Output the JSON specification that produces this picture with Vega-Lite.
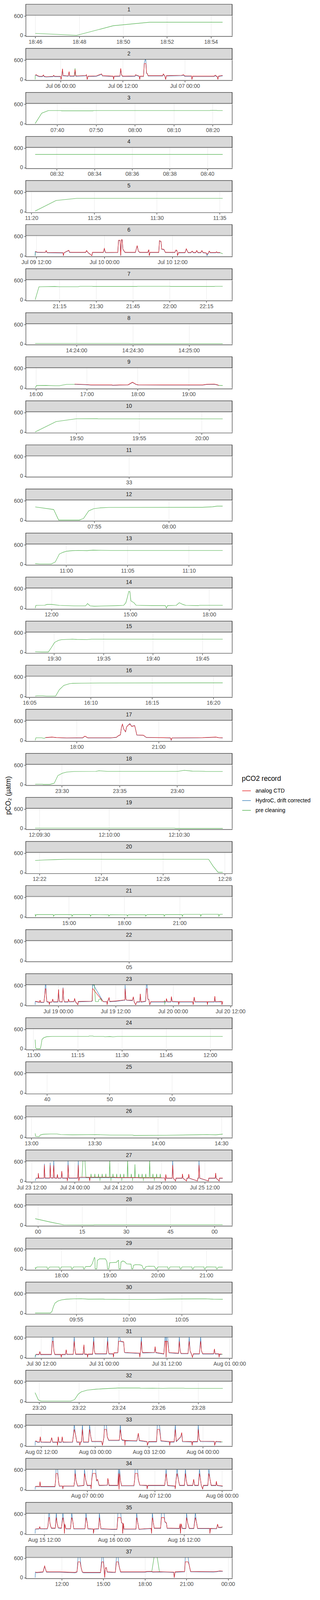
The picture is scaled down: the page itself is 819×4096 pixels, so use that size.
{
"$schema":"https://vega.github.io/schema/vega-lite/v6.json",
"padding":{"left":13,"top":9,"right":5,"bottom":5},
"background":"white",
"title":{"text":"pCO₂ (µatm)","orient":"left","anchor":"middle","fontSize":17.5,"fontWeight":"normal","color":"#000000","offset":4},
"config":{
 "font":"Liberation Sans",
 "view":{"stroke":"#333333","strokeWidth":1.2},
 "axis":{"domain":false,"tickColor":"#333333","tickWidth":1.2,"tickSize":4.5,"labelColor":"#4D4D4D","labelFontSize":14,"labelPadding":3,"gridColor":"#EBEBEB","gridWidth":1.1,"labelOverlap":false,"labelFlush":false},
 "legend":{"titleFontSize":17.5,"titleFontWeight":"normal","titleColor":"#000000","labelFontSize":14,"labelColor":"#000000","symbolType":"stroke","symbolSize":484,"symbolStrokeWidth":1.4,"rowPadding":6,"labelOffset":11,"titlePadding":10}
},
"resolve":{"scale":{"x":"independent","y":"independent","color":"shared"},"axis":{"x":"independent","y":"independent"}},
"spacing":5.8,
"datasets":{
"p1":[{"t":"2019-07-04T18:46:00","v":61,"s":"P"},{"t":"2019-07-04T18:47:00","v":32,"s":"P"},{"t":"2019-07-04T18:47:53","v":0,"s":"P"},{"t":"2019-07-04T18:49:33","v":301,"s":"P"},{"t":"2019-07-04T18:51:13","v":412,"s":"P"},{"t":"2019-07-04T18:54:32","v":412,"s":"P"}],
"p2":[{"t":"2019-07-05T19:06","v":0,"s":"P","g":1},{"t":"2019-07-05T19:07","v":130,"s":"P","g":1},{"t":"2019-07-06T02:42","v":112,"s":"P","g":2},{"t":"2019-07-06T02:48","v":350,"s":"P","g":2},{"t":"2019-07-06T02:54","v":112,"s":"P","g":2},
{"t":"2019-07-05T19:07","v":120,"s":"H"},{"t":"2019-07-05T19:18","v":134,"s":"H"},{"t":"2019-07-05T19:31","v":109,"s":"H"},{"t":"2019-07-05T19:54","v":85,"s":"H"},{"t":"2019-07-05T20:29","v":85,"s":"H"},{"t":"2019-07-05T20:41","v":126,"s":"H"},{"t":"2019-07-05T20:50","v":85,"s":"H"},{"t":"2019-07-05T21:13","v":75,"s":"H"},{"t":"2019-07-05T22:32","v":85,"s":"H"},{"t":"2019-07-05T22:41","v":116,"s":"H"},{"t":"2019-07-05T22:50","v":85,"s":"H"},{"t":"2019-07-06T00:00","v":85,"s":"H"},{"t":"2019-07-06T00:06","v":0,"s":"H"},{"t":"2019-07-06T00:13","v":85,"s":"H"},{"t":"2019-07-06T00:23","v":320,"s":"H"},{"t":"2019-07-06T00:29","v":110,"s":"H"},{"t":"2019-07-06T01:29","v":97,"s":"H"},{"t":"2019-07-06T01:39","v":233,"s":"H"},{"t":"2019-07-06T01:46","v":97,"s":"H"},{"t":"2019-07-06T02:39","v":97,"s":"H"},{"t":"2019-07-06T02:48","v":295,"s":"H"},{"t":"2019-07-06T02:57","v":97,"s":"H"},{"t":"2019-07-06T04:51","v":109,"s":"H"},{"t":"2019-07-06T05:00","v":134,"s":"H"},{"t":"2019-07-06T05:09","v":0,"s":"H"},{"t":"2019-07-06T05:18","v":90,"s":"H"},{"t":"2019-07-06T06:55","v":97,"s":"H"},{"t":"2019-07-06T07:56","v":160,"s":"H"},{"t":"2019-07-06T08:05","v":104,"s":"H"},{"t":"2019-07-06T10:09","v":90,"s":"H"},{"t":"2019-07-06T10:14","v":0,"s":"H"},{"t":"2019-07-06T10:21","v":90,"s":"H"},{"t":"2019-07-06T11:28","v":97,"s":"H"},{"t":"2019-07-06T11:37","v":332,"s":"H"},{"t":"2019-07-06T11:46","v":134,"s":"H"},{"t":"2019-07-06T11:58","v":90,"s":"H"},{"t":"2019-07-06T14:24","v":97,"s":"H"},{"t":"2019-07-06T14:28","v":134,"s":"H"},{"t":"2019-07-06T15:12","v":90,"s":"H"},{"t":"2019-07-06T15:17","v":0,"s":"H"},{"t":"2019-07-06T15:22","v":90,"s":"H"},{"t":"2019-07-06T16:01","v":90,"s":"H"},{"t":"2019-07-06T16:10","v":520,"s":"H"},{"t":"2019-07-06T16:22","v":630,"s":"H"},{"t":"2019-07-06T16:28","v":600,"s":"H"},{"t":"2019-07-06T16:36","v":190,"s":"H"},{"t":"2019-07-06T16:45","v":175,"s":"H"},{"t":"2019-07-06T16:54","v":105,"s":"H"},{"t":"2019-07-06T18:05","v":105,"s":"H"},{"t":"2019-07-06T19:42","v":105,"s":"H"},{"t":"2019-07-06T19:50","v":160,"s":"H"},{"t":"2019-07-06T20:08","v":97,"s":"H"},{"t":"2019-07-06T20:17","v":0,"s":"H"},{"t":"2019-07-06T20:26","v":105,"s":"H"},{"t":"2019-07-06T23:22","v":114,"s":"H"},{"t":"2019-07-06T23:45","v":134,"s":"H"},{"t":"2019-07-06T23:57","v":97,"s":"H"},{"t":"2019-07-07T01:17","v":97,"s":"H"},{"t":"2019-07-07T01:22","v":0,"s":"H"},{"t":"2019-07-07T01:29","v":90,"s":"H"},{"t":"2019-07-07T05:41","v":90,"s":"H"},{"t":"2019-07-07T05:50","v":121,"s":"H"},{"t":"2019-07-07T06:16","v":75,"s":"H"},{"t":"2019-07-07T06:22","v":0,"s":"H"},{"t":"2019-07-07T06:29","v":90,"s":"H"},{"t":"2019-07-07T07:09","v":110,"s":"H"},{"t":"2019-07-07T07:18","v":112,"s":"H"},
{"t":"2019-07-05T19:07","v":136,"s":"A"},{"t":"2019-07-05T19:18","v":149,"s":"A"},{"t":"2019-07-05T19:31","v":124,"s":"A"},{"t":"2019-07-05T19:54","v":99,"s":"A"},{"t":"2019-07-05T20:29","v":99,"s":"A"},{"t":"2019-07-05T20:41","v":141,"s":"A"},{"t":"2019-07-05T20:50","v":99,"s":"A"},{"t":"2019-07-05T21:13","v":87,"s":"A"},{"t":"2019-07-05T22:32","v":99,"s":"A"},{"t":"2019-07-05T22:41","v":131,"s":"A"},{"t":"2019-07-05T22:50","v":99,"s":"A"},{"t":"2019-07-06T00:00","v":99,"s":"A"},{"t":"2019-07-06T00:06","v":0,"s":"A"},{"t":"2019-07-06T00:13","v":99,"s":"A"},{"t":"2019-07-06T00:23","v":335,"s":"A"},{"t":"2019-07-06T00:29","v":124,"s":"A"},{"t":"2019-07-06T01:29","v":112,"s":"A"},{"t":"2019-07-06T01:39","v":248,"s":"A"},{"t":"2019-07-06T01:46","v":112,"s":"A"},{"t":"2019-07-06T02:39","v":112,"s":"A"},{"t":"2019-07-06T02:48","v":310,"s":"A"},{"t":"2019-07-06T02:57","v":112,"s":"A"},{"t":"2019-07-06T04:51","v":124,"s":"A"},{"t":"2019-07-06T05:00","v":149,"s":"A"},{"t":"2019-07-06T05:09","v":0,"s":"A"},{"t":"2019-07-06T05:18","v":104,"s":"A"},{"t":"2019-07-06T06:55","v":112,"s":"A"},{"t":"2019-07-06T07:56","v":174,"s":"A"},{"t":"2019-07-06T08:05","v":119,"s":"A"},{"t":"2019-07-06T10:09","v":104,"s":"A"},{"t":"2019-07-06T10:14","v":0,"s":"A"},{"t":"2019-07-06T10:21","v":104,"s":"A"},{"t":"2019-07-06T11:28","v":112,"s":"A"},{"t":"2019-07-06T11:37","v":347,"s":"A"},{"t":"2019-07-06T11:46","v":149,"s":"A"},{"t":"2019-07-06T11:58","v":104,"s":"A"},{"t":"2019-07-06T14:24","v":112,"s":"A"},{"t":"2019-07-06T14:28","v":149,"s":"A"},{"t":"2019-07-06T15:12","v":104,"s":"A"},{"t":"2019-07-06T15:17","v":0,"s":"A"},{"t":"2019-07-06T15:22","v":104,"s":"A"},{"t":"2019-07-06T16:01","v":104,"s":"A"},{"t":"2019-07-06T16:10","v":496,"s":"A"},{"t":"2019-07-06T16:22","v":496,"s":"A"},{"t":"2019-07-06T16:28","v":496,"s":"A"},{"t":"2019-07-06T16:36","v":198,"s":"A"},{"t":"2019-07-06T16:45","v":186,"s":"A"},{"t":"2019-07-06T16:54","v":119,"s":"A"},{"t":"2019-07-06T18:05","v":119,"s":"A"},{"t":"2019-07-06T19:42","v":119,"s":"A"},{"t":"2019-07-06T19:50","v":174,"s":"A"},{"t":"2019-07-06T20:08","v":112,"s":"A"},{"t":"2019-07-06T20:17","v":0,"s":"A"},{"t":"2019-07-06T20:26","v":119,"s":"A"},{"t":"2019-07-06T23:22","v":129,"s":"A"},{"t":"2019-07-06T23:45","v":149,"s":"A"},{"t":"2019-07-06T23:57","v":112,"s":"A"},{"t":"2019-07-07T01:17","v":112,"s":"A"},{"t":"2019-07-07T01:22","v":0,"s":"A"},{"t":"2019-07-07T01:29","v":104,"s":"A"},{"t":"2019-07-07T05:41","v":104,"s":"A"},{"t":"2019-07-07T05:50","v":136,"s":"A"},{"t":"2019-07-07T06:16","v":87,"s":"A"},{"t":"2019-07-07T06:22","v":0,"s":"A"},{"t":"2019-07-07T06:29","v":104,"s":"A"},{"t":"2019-07-07T07:09","v":124,"s":"A"},{"t":"2019-07-07T07:18","v":124,"s":"A"}],
"p3":[{"t":"2019-07-07T07:34:22","v":0,"s":"P"},{"t":"2019-07-07T07:36:03","v":322,"s":"P"},{"t":"2019-07-07T07:37:45","v":405,"s":"P"},{"t":"2019-07-07T07:40:57","v":405,"s":"P"},{"t":"2019-07-07T07:41:08","v":398,"s":"P"},{"t":"2019-07-07T07:49:13","v":398,"s":"P"},{"t":"2019-07-07T07:49:24","v":405,"s":"P"},{"t":"2019-07-07T08:19:17","v":405,"s":"P"},{"t":"2019-07-07T08:19:28","v":412,"s":"P"},{"t":"2019-07-07T08:20:59","v":412,"s":"P"},{"t":"2019-07-07T08:21:10","v":405,"s":"P"},{"t":"2019-07-07T08:22:34","v":405,"s":"P"}],
"p4":[{"t":"2019-07-07T08:30:51","v":410,"s":"P"},{"t":"2019-07-07T08:40:49","v":410,"s":"P"}],
"p5":[{"t":"2019-07-08T11:20:18","v":18,"s":"P"},{"t":"2019-07-08T11:21:58","v":348,"s":"P"},{"t":"2019-07-08T11:23:37","v":415,"s":"P"},{"t":"2019-07-08T11:35:15","v":415,"s":"P"}],
"p6":[{"t":"2019-07-09T11:49","v":0,"s":"P","g":1},{"t":"2019-07-09T11:54","v":120,"s":"P","g":1},{"t":"2019-07-10T20:20","v":95,"s":"P","g":2},{"t":"2019-07-10T20:51","v":62,"s":"P","g":2},
{"t":"2019-07-09T11:49","v":0,"s":"H"},{"t":"2019-07-09T11:50","v":125,"s":"H"},{"t":"2019-07-09T12:12","v":100,"s":"H"},{"t":"2019-07-09T13:37","v":95,"s":"H"},{"t":"2019-07-09T13:45","v":151,"s":"H"},{"t":"2019-07-09T13:55","v":90,"s":"H"},{"t":"2019-07-09T16:43","v":85,"s":"H"},{"t":"2019-07-09T16:47","v":0,"s":"H"},{"t":"2019-07-09T16:54","v":85,"s":"H"},{"t":"2019-07-09T17:45","v":162,"s":"H"},{"t":"2019-07-09T17:52","v":100,"s":"H"},{"t":"2019-07-09T18:08","v":96,"s":"H"},{"t":"2019-07-09T20:42","v":96,"s":"H"},{"t":"2019-07-09T20:53","v":151,"s":"H"},{"t":"2019-07-09T21:06","v":96,"s":"H"},{"t":"2019-07-09T21:49","v":0,"s":"H"},{"t":"2019-07-09T21:54","v":96,"s":"H"},{"t":"2019-07-09T23:49","v":96,"s":"H"},{"t":"2019-07-10T00:00","v":217,"s":"H"},{"t":"2019-07-10T00:11","v":96,"s":"H"},{"t":"2019-07-10T00:19","v":92,"s":"H"},{"t":"2019-07-10T02:22","v":96,"s":"H"},{"t":"2019-07-10T02:30","v":473,"s":"H"},{"t":"2019-07-10T02:46","v":473,"s":"H"},{"t":"2019-07-10T02:53","v":0,"s":"H"},{"t":"2019-07-10T03:01","v":491,"s":"H"},{"t":"2019-07-10T03:09","v":491,"s":"H"},{"t":"2019-07-10T03:16","v":199,"s":"H"},{"t":"2019-07-10T03:32","v":125,"s":"H"},{"t":"2019-07-10T03:40","v":96,"s":"H"},{"t":"2019-07-10T05:28","v":96,"s":"H"},{"t":"2019-07-10T05:47","v":308,"s":"H"},{"t":"2019-07-10T05:59","v":140,"s":"H"},{"t":"2019-07-10T06:14","v":96,"s":"H"},{"t":"2019-07-10T07:39","v":96,"s":"H"},{"t":"2019-07-10T07:50","v":180,"s":"H"},{"t":"2019-07-10T07:55","v":0,"s":"H"},{"t":"2019-07-10T08:03","v":96,"s":"H"},{"t":"2019-07-10T09:35","v":96,"s":"H"},{"t":"2019-07-10T09:43","v":462,"s":"H"},{"t":"2019-07-10T09:59","v":436,"s":"H"},{"t":"2019-07-10T10:06","v":199,"s":"H"},{"t":"2019-07-10T10:30","v":188,"s":"H"},{"t":"2019-07-10T10:45","v":96,"s":"H"},{"t":"2019-07-10T12:25","v":96,"s":"H"},{"t":"2019-07-10T12:38","v":173,"s":"H"},{"t":"2019-07-10T12:49","v":140,"s":"H"},{"t":"2019-07-10T12:53","v":0,"s":"H"},{"t":"2019-07-10T13:04","v":90,"s":"H"},{"t":"2019-07-10T14:13","v":90,"s":"H"},{"t":"2019-07-10T14:26","v":209,"s":"H"},{"t":"2019-07-10T14:45","v":90,"s":"H"},{"t":"2019-07-10T15:15","v":90,"s":"H"},{"t":"2019-07-10T15:28","v":136,"s":"H"},{"t":"2019-07-10T15:40","v":90,"s":"H"},{"t":"2019-07-10T16:06","v":90,"s":"H"},{"t":"2019-07-10T16:17","v":154,"s":"H"},{"t":"2019-07-10T16:28","v":90,"s":"H"},{"t":"2019-07-10T17:00","v":90,"s":"H"},{"t":"2019-07-10T17:11","v":151,"s":"H"},{"t":"2019-07-10T17:23","v":90,"s":"H"},{"t":"2019-07-10T17:57","v":80,"s":"H"},{"t":"2019-07-10T18:05","v":0,"s":"H"},{"t":"2019-07-10T18:21","v":85,"s":"H"},{"t":"2019-07-10T18:28","v":136,"s":"H"},{"t":"2019-07-10T18:39","v":90,"s":"H"},{"t":"2019-07-10T19:38","v":90,"s":"H"},{"t":"2019-07-10T19:46","v":114,"s":"H"},{"t":"2019-07-10T19:53","v":90,"s":"H"},{"t":"2019-07-10T20:24","v":90,"s":"H"},
{"t":"2019-07-09T11:50","v":135,"s":"A"},{"t":"2019-07-09T12:12","v":110,"s":"A"},{"t":"2019-07-09T13:37","v":105,"s":"A"},{"t":"2019-07-09T13:45","v":161,"s":"A"},{"t":"2019-07-09T13:55","v":100,"s":"A"},{"t":"2019-07-09T16:43","v":95,"s":"A"},{"t":"2019-07-09T16:47","v":0,"s":"A"},{"t":"2019-07-09T16:54","v":95,"s":"A"},{"t":"2019-07-09T17:45","v":172,"s":"A"},{"t":"2019-07-09T17:52","v":110,"s":"A"},{"t":"2019-07-09T18:08","v":106,"s":"A"},{"t":"2019-07-09T20:42","v":106,"s":"A"},{"t":"2019-07-09T20:53","v":161,"s":"A"},{"t":"2019-07-09T21:06","v":106,"s":"A"},{"t":"2019-07-09T21:49","v":0,"s":"A"},{"t":"2019-07-09T21:54","v":106,"s":"A"},{"t":"2019-07-09T23:49","v":106,"s":"A"},{"t":"2019-07-10T00:00","v":227,"s":"A"},{"t":"2019-07-10T00:11","v":106,"s":"A"},{"t":"2019-07-10T00:19","v":102,"s":"A"},{"t":"2019-07-10T02:22","v":106,"s":"A"},{"t":"2019-07-10T02:30","v":483,"s":"A"},{"t":"2019-07-10T02:46","v":483,"s":"A"},{"t":"2019-07-10T02:53","v":0,"s":"A"},{"t":"2019-07-10T03:01","v":501,"s":"A"},{"t":"2019-07-10T03:09","v":501,"s":"A"},{"t":"2019-07-10T03:16","v":209,"s":"A"},{"t":"2019-07-10T03:32","v":135,"s":"A"},{"t":"2019-07-10T03:40","v":106,"s":"A"},{"t":"2019-07-10T05:28","v":106,"s":"A"},{"t":"2019-07-10T05:47","v":318,"s":"A"},{"t":"2019-07-10T05:59","v":150,"s":"A"},{"t":"2019-07-10T06:14","v":106,"s":"A"},{"t":"2019-07-10T07:39","v":106,"s":"A"},{"t":"2019-07-10T07:50","v":190,"s":"A"},{"t":"2019-07-10T07:55","v":0,"s":"A"},{"t":"2019-07-10T08:03","v":106,"s":"A"},{"t":"2019-07-10T09:35","v":106,"s":"A"},{"t":"2019-07-10T09:43","v":472,"s":"A"},{"t":"2019-07-10T09:59","v":446,"s":"A"},{"t":"2019-07-10T10:06","v":209,"s":"A"},{"t":"2019-07-10T10:30","v":198,"s":"A"},{"t":"2019-07-10T10:45","v":106,"s":"A"},{"t":"2019-07-10T12:25","v":106,"s":"A"},{"t":"2019-07-10T12:38","v":183,"s":"A"},{"t":"2019-07-10T12:49","v":150,"s":"A"},{"t":"2019-07-10T12:53","v":0,"s":"A"},{"t":"2019-07-10T13:04","v":100,"s":"A"},{"t":"2019-07-10T14:13","v":100,"s":"A"},{"t":"2019-07-10T14:26","v":219,"s":"A"},{"t":"2019-07-10T14:45","v":100,"s":"A"},{"t":"2019-07-10T15:15","v":100,"s":"A"},{"t":"2019-07-10T15:28","v":146,"s":"A"},{"t":"2019-07-10T15:40","v":100,"s":"A"},{"t":"2019-07-10T16:06","v":100,"s":"A"},{"t":"2019-07-10T16:17","v":164,"s":"A"},{"t":"2019-07-10T16:28","v":100,"s":"A"},{"t":"2019-07-10T17:00","v":100,"s":"A"},{"t":"2019-07-10T17:11","v":161,"s":"A"},{"t":"2019-07-10T17:23","v":100,"s":"A"},{"t":"2019-07-10T17:57","v":90,"s":"A"},{"t":"2019-07-10T18:05","v":40,"s":"A"},{"t":"2019-07-10T18:21","v":95,"s":"A"},{"t":"2019-07-10T18:28","v":146,"s":"A"},{"t":"2019-07-10T18:39","v":100,"s":"A"},{"t":"2019-07-10T19:38","v":100,"s":"A"},{"t":"2019-07-10T19:46","v":124,"s":"A"},{"t":"2019-07-10T19:53","v":100,"s":"A"},{"t":"2019-07-10T20:24","v":100,"s":"A"}],
"p7":[{"t":"2019-07-10T21:05:05","v":0,"s":"P"},{"t":"2019-07-10T21:06:38","v":405,"s":"P"},{"t":"2019-07-10T21:07:32","v":408,"s":"P"},{"t":"2019-07-10T21:13:09","v":415,"s":"P"},{"t":"2019-07-10T21:14:57","v":408,"s":"P"},{"t":"2019-07-10T21:22:43","v":408,"s":"P"},{"t":"2019-07-10T21:23:19","v":420,"s":"P"},{"t":"2019-07-10T21:28:24","v":420,"s":"P"},{"t":"2019-07-10T21:28:42","v":415,"s":"P"},{"t":"2019-07-10T21:46:37","v":415,"s":"P"},{"t":"2019-07-10T21:46:55","v":420,"s":"P"},{"t":"2019-07-10T22:00:04","v":420,"s":"P"},{"t":"2019-07-10T22:00:22","v":415,"s":"P"},{"t":"2019-07-10T22:18:18","v":415,"s":"P"},{"t":"2019-07-10T22:18:36","v":420,"s":"P"},{"t":"2019-07-10T22:21:42","v":420,"s":"P"}],
"p8":[{"t":"2019-07-11T14:23:38","v":11,"s":"P"},{"t":"2019-07-11T14:24:28","v":11,"s":"P"},{"t":"2019-07-11T14:24:29","v":4,"s":"P"},{"t":"2019-07-11T14:25:18","v":4,"s":"P"}],
"p9":[{"t":"2019-07-11T15:59:08","v":0,"s":"P","g":1},{"t":"2019-07-11T16:00:51","v":74,"s":"P","g":1},{"t":"2019-07-11T16:12:04","v":77,"s":"P","g":1},{"t":"2019-07-11T16:22:25","v":66,"s":"P","g":1},{"t":"2019-07-11T16:27:35","v":66,"s":"P","g":1},{"t":"2019-07-11T16:31:02","v":85,"s":"P","g":1},{"t":"2019-07-11T16:36:12","v":110,"s":"P","g":1},{"t":"2019-07-11T16:46:33","v":110,"s":"P","g":1},{"t":"2019-07-11T19:33:48","v":96,"s":"P","g":2},{"t":"2019-07-11T19:35:31","v":77,"s":"P","g":2},{"t":"2019-07-11T19:40:10","v":74,"s":"P","g":2},
{"t":"2019-07-11T16:45:41","v":110,"s":"H"},{"t":"2019-07-11T17:00:20","v":95,"s":"H"},{"t":"2019-07-11T17:04:39","v":84,"s":"H"},{"t":"2019-07-11T17:29:39","v":84,"s":"H"},{"t":"2019-07-11T17:30:31","v":77,"s":"H"},{"t":"2019-07-11T17:38:16","v":84,"s":"H"},{"t":"2019-07-11T17:48:37","v":88,"s":"H"},{"t":"2019-07-11T17:53:48","v":170,"s":"H"},{"t":"2019-07-11T17:58:06","v":102,"s":"H"},{"t":"2019-07-11T18:00:41","v":88,"s":"H"},{"t":"2019-07-11T18:29:59","v":84,"s":"H"},{"t":"2019-07-11T19:16:33","v":84,"s":"H"},{"t":"2019-07-11T19:21:43","v":106,"s":"H"},{"t":"2019-07-11T19:30:21","v":110,"s":"H"},{"t":"2019-07-11T19:33:48","v":88,"s":"H"},{"t":"2019-07-11T19:35:31","v":72,"s":"H"},
{"t":"2019-07-11T16:45:41","v":118,"s":"A"},{"t":"2019-07-11T17:00:20","v":103,"s":"A"},{"t":"2019-07-11T17:04:39","v":92,"s":"A"},{"t":"2019-07-11T17:29:39","v":92,"s":"A"},{"t":"2019-07-11T17:30:31","v":85,"s":"A"},{"t":"2019-07-11T17:38:16","v":92,"s":"A"},{"t":"2019-07-11T17:48:37","v":96,"s":"A"},{"t":"2019-07-11T17:53:48","v":177,"s":"A"},{"t":"2019-07-11T17:58:06","v":110,"s":"A"},{"t":"2019-07-11T18:00:41","v":96,"s":"A"},{"t":"2019-07-11T18:29:59","v":92,"s":"A"},{"t":"2019-07-11T19:16:33","v":92,"s":"A"},{"t":"2019-07-11T19:21:43","v":114,"s":"A"},{"t":"2019-07-11T19:30:21","v":118,"s":"A"},{"t":"2019-07-11T19:33:48","v":96,"s":"A"},{"t":"2019-07-11T19:35:31","v":77,"s":"A"}],
"p10":[{"t":"2019-07-12T19:46:43","v":0,"s":"P"},{"t":"2019-07-12T19:48:23","v":324,"s":"P"},{"t":"2019-07-12T19:50:00","v":412,"s":"P"},{"t":"2019-07-12T19:51:41","v":416,"s":"P"},{"t":"2019-07-12T19:51:44","v":409,"s":"P"},{"t":"2019-07-12T20:01:40","v":409,"s":"P"}],
"p11":[{"t":"2019-07-13T10:00:33","v":null,"s":"P"}],
"p12":[{"t":"2019-07-14T07:51:03","v":411,"s":"P"},{"t":"2019-07-14T07:52:17","v":330,"s":"P"},{"t":"2019-07-14T07:52:37","v":0,"s":"P"},{"t":"2019-07-14T07:54:00","v":0,"s":"P"},{"t":"2019-07-14T07:54:17","v":48,"s":"P"},{"t":"2019-07-14T07:54:38","v":289,"s":"P"},{"t":"2019-07-14T07:54:58","v":356,"s":"P"},{"t":"2019-07-14T07:55:24","v":381,"s":"P"},{"t":"2019-07-14T07:55:59","v":396,"s":"P"},{"t":"2019-07-14T08:02:15","v":400,"s":"P"},{"t":"2019-07-14T08:02:56","v":415,"s":"P"},{"t":"2019-07-14T08:03:14","v":437,"s":"P"},{"t":"2019-07-14T08:03:36","v":437,"s":"P"}],
"p13":[{"t":"2019-07-14T10:57:29","v":15,"s":"P"},{"t":"2019-07-14T10:57:50","v":4,"s":"P"},{"t":"2019-07-14T10:58:48","v":4,"s":"P"},{"t":"2019-07-14T10:59:07","v":67,"s":"P"},{"t":"2019-07-14T10:59:27","v":315,"s":"P"},{"t":"2019-07-14T10:59:45","v":370,"s":"P"},{"t":"2019-07-14T11:00:03","v":404,"s":"P"},{"t":"2019-07-14T11:00:31","v":422,"s":"P"},{"t":"2019-07-14T11:01:00","v":426,"s":"P"},{"t":"2019-07-14T11:01:43","v":422,"s":"P"},{"t":"2019-07-14T11:02:11","v":437,"s":"P"},{"t":"2019-07-14T11:02:47","v":433,"s":"P"},{"t":"2019-07-14T11:03:37","v":426,"s":"P"},{"t":"2019-07-14T11:12:45","v":426,"s":"P"}],
"p14":[{"t":"2019-07-15T11:22:58","v":0,"s":"P"},{"t":"2019-07-15T11:24:38","v":88,"s":"P"},{"t":"2019-07-15T11:44:40","v":91,"s":"P"},{"t":"2019-07-15T11:49:40","v":117,"s":"P"},{"t":"2019-07-15T12:01:22","v":117,"s":"P"},{"t":"2019-07-15T12:18:04","v":88,"s":"P"},{"t":"2019-07-15T12:51:28","v":73,"s":"P"},{"t":"2019-07-15T13:18:10","v":73,"s":"P"},{"t":"2019-07-15T13:22:28","v":146,"s":"P"},{"t":"2019-07-15T13:28:10","v":73,"s":"P"},{"t":"2019-07-15T13:38:10","v":62,"s":"P"},{"t":"2019-07-15T14:31:40","v":80,"s":"P"},{"t":"2019-07-15T14:45:00","v":88,"s":"P"},{"t":"2019-07-15T14:50:00","v":172,"s":"P"},{"t":"2019-07-15T14:53:22","v":337,"s":"P"},{"t":"2019-07-15T14:56:40","v":527,"s":"P"},{"t":"2019-07-15T14:58:58","v":520,"s":"P"},{"t":"2019-07-15T15:01:40","v":227,"s":"P"},{"t":"2019-07-15T15:08:22","v":172,"s":"P"},{"t":"2019-07-15T15:13:22","v":91,"s":"P"},{"t":"2019-07-15T15:50:04","v":80,"s":"P"},{"t":"2019-07-15T16:20:10","v":80,"s":"P"},{"t":"2019-07-15T16:22:28","v":0,"s":"P"},{"t":"2019-07-15T16:25:10","v":80,"s":"P"},{"t":"2019-07-15T16:45:10","v":88,"s":"P"},{"t":"2019-07-15T16:51:52","v":172,"s":"P"},{"t":"2019-07-15T17:00:10","v":117,"s":"P"},{"t":"2019-07-15T17:06:52","v":88,"s":"P"},{"t":"2019-07-15T17:35:16","v":80,"s":"P"},{"t":"2019-07-15T17:38:34","v":91,"s":"P"},{"t":"2019-07-15T18:31:04","v":91,"s":"P"}],
"p15":[{"t":"2019-07-15T19:28:05","v":15,"s":"P"},{"t":"2019-07-15T19:28:45","v":7,"s":"P"},{"t":"2019-07-15T19:29:25","v":7,"s":"P"},{"t":"2019-07-15T19:29:43","v":143,"s":"P"},{"t":"2019-07-15T19:30:03","v":307,"s":"P"},{"t":"2019-07-15T19:30:27","v":373,"s":"P"},{"t":"2019-07-15T19:30:45","v":395,"s":"P"},{"t":"2019-07-15T19:31:51","v":410,"s":"P"},{"t":"2019-07-15T19:32:18","v":402,"s":"P"},{"t":"2019-07-15T19:33:20","v":398,"s":"P"},{"t":"2019-07-15T19:33:47","v":410,"s":"P"},{"t":"2019-07-15T19:47:04","v":410,"s":"P"}],
"p16":[{"t":"2019-07-16T16:05:28","v":7,"s":"P"},{"t":"2019-07-16T16:05:39","v":15,"s":"P"},{"t":"2019-07-16T16:06:04","v":15,"s":"P"},{"t":"2019-07-16T16:06:22","v":7,"s":"P"},{"t":"2019-07-16T16:07:08","v":7,"s":"P"},{"t":"2019-07-16T16:07:26","v":205,"s":"P"},{"t":"2019-07-16T16:07:48","v":340,"s":"P"},{"t":"2019-07-16T16:08:16","v":395,"s":"P"},{"t":"2019-07-16T16:08:31","v":406,"s":"P"},{"t":"2019-07-16T16:09:14","v":410,"s":"P"},{"t":"2019-07-16T16:11:08","v":417,"s":"P"},{"t":"2019-07-16T16:20:46","v":421,"s":"P"}],
"p17":[{"t":"2019-07-16T16:28:34","v":0,"s":"P"},{"t":"2019-07-16T16:30:11","v":81,"s":"P"},{"t":"2019-07-16T16:43:03","v":81,"s":"P"},{"t":"2019-07-16T16:47:53","v":63,"s":"P"},{"t":"2019-07-16T16:51:06","v":81,"s":"P"},
{"t":"2019-07-16T16:51:06","v":83,"s":"H"},{"t":"2019-07-16T17:05:35","v":98,"s":"H"},{"t":"2019-07-16T17:15:15","v":83,"s":"H"},{"t":"2019-07-16T17:37:47","v":72,"s":"H"},{"t":"2019-07-16T18:00:00","v":76,"s":"H"},{"t":"2019-07-16T18:13:10","v":76,"s":"H"},{"t":"2019-07-16T18:18:04","v":128,"s":"H"},{"t":"2019-07-16T18:24:28","v":76,"s":"H"},{"t":"2019-07-16T19:14:22","v":76,"s":"H"},{"t":"2019-07-16T19:27:16","v":91,"s":"H"},{"t":"2019-07-16T19:32:04","v":146,"s":"H"},{"t":"2019-07-16T19:36:16","v":172,"s":"H"},{"t":"2019-07-16T19:38:34","v":420,"s":"H"},{"t":"2019-07-16T19:40:46","v":505,"s":"H"},{"t":"2019-07-16T19:43:22","v":356,"s":"H"},{"t":"2019-07-16T19:47:34","v":264,"s":"H"},{"t":"2019-07-16T19:49:46","v":420,"s":"H"},{"t":"2019-07-16T19:52:58","v":476,"s":"H"},{"t":"2019-07-16T19:57:10","v":525,"s":"H"},{"t":"2019-07-16T20:01:04","v":440,"s":"H"},{"t":"2019-07-16T20:07:28","v":465,"s":"H"},{"t":"2019-07-16T20:09:04","v":374,"s":"H"},{"t":"2019-07-16T20:12:22","v":164,"s":"H"},{"t":"2019-07-16T20:26:46","v":157,"s":"H"},{"t":"2019-07-16T20:33:16","v":87,"s":"H"},{"t":"2019-07-16T21:10:16","v":80,"s":"H"},{"t":"2019-07-16T21:26:22","v":76,"s":"H"},{"t":"2019-07-16T21:27:58","v":0,"s":"H"},{"t":"2019-07-16T21:29:34","v":72,"s":"H"},{"t":"2019-07-16T22:37:10","v":80,"s":"H"},{"t":"2019-07-16T23:06:10","v":98,"s":"H"},{"t":"2019-07-16T23:12:40","v":80,"s":"H"},{"t":"2019-07-16T23:21:22","v":76,"s":"H"},
{"t":"2019-07-16T16:51:06","v":88,"s":"A"},{"t":"2019-07-16T17:05:35","v":103,"s":"A"},{"t":"2019-07-16T17:15:15","v":88,"s":"A"},{"t":"2019-07-16T17:37:47","v":77,"s":"A"},{"t":"2019-07-16T18:00:00","v":81,"s":"A"},{"t":"2019-07-16T18:13:10","v":81,"s":"A"},{"t":"2019-07-16T18:18:04","v":133,"s":"A"},{"t":"2019-07-16T18:24:28","v":81,"s":"A"},{"t":"2019-07-16T19:14:22","v":81,"s":"A"},{"t":"2019-07-16T19:27:16","v":96,"s":"A"},{"t":"2019-07-16T19:32:04","v":151,"s":"A"},{"t":"2019-07-16T19:36:16","v":177,"s":"A"},{"t":"2019-07-16T19:38:34","v":416,"s":"A"},{"t":"2019-07-16T19:40:46","v":508,"s":"A"},{"t":"2019-07-16T19:43:22","v":361,"s":"A"},{"t":"2019-07-16T19:47:34","v":269,"s":"A"},{"t":"2019-07-16T19:49:46","v":416,"s":"A"},{"t":"2019-07-16T19:52:58","v":471,"s":"A"},{"t":"2019-07-16T19:57:10","v":515,"s":"A"},{"t":"2019-07-16T20:01:04","v":434,"s":"A"},{"t":"2019-07-16T20:07:28","v":460,"s":"A"},{"t":"2019-07-16T20:09:04","v":379,"s":"A"},{"t":"2019-07-16T20:12:22","v":169,"s":"A"},{"t":"2019-07-16T20:26:46","v":162,"s":"A"},{"t":"2019-07-16T20:33:16","v":92,"s":"A"},{"t":"2019-07-16T21:10:16","v":85,"s":"A"},{"t":"2019-07-16T21:26:22","v":81,"s":"A"},{"t":"2019-07-16T21:27:58","v":11,"s":"A"},{"t":"2019-07-16T21:29:34","v":77,"s":"A"},{"t":"2019-07-16T22:37:10","v":85,"s":"A"},{"t":"2019-07-16T23:06:10","v":103,"s":"A"},{"t":"2019-07-16T23:12:40","v":85,"s":"A"},{"t":"2019-07-16T23:21:22","v":81,"s":"A"}],
"p18":[{"t":"2019-07-16T23:27:41","v":7,"s":"P"},{"t":"2019-07-16T23:28:19","v":7,"s":"P"},{"t":"2019-07-16T23:28:23","v":0,"s":"P"},{"t":"2019-07-16T23:28:57","v":0,"s":"P"},{"t":"2019-07-16T23:29:20","v":37,"s":"P"},{"t":"2019-07-16T23:29:39","v":276,"s":"P"},{"t":"2019-07-16T23:30:02","v":350,"s":"P"},{"t":"2019-07-16T23:30:25","v":386,"s":"P"},{"t":"2019-07-16T23:31:03","v":405,"s":"P"},{"t":"2019-07-16T23:32:57","v":409,"s":"P"},{"t":"2019-07-16T23:33:12","v":427,"s":"P"},{"t":"2019-07-16T23:33:58","v":409,"s":"P"},{"t":"2019-07-16T23:40:03","v":409,"s":"P"},{"t":"2019-07-16T23:40:37","v":442,"s":"P"},{"t":"2019-07-16T23:41:19","v":416,"s":"P"},{"t":"2019-07-16T23:42:20","v":412,"s":"P"},{"t":"2019-07-16T23:42:28","v":405,"s":"P"},{"t":"2019-07-16T23:43:57","v":405,"s":"P"}],
"p19":[{"t":"2019-07-17T12:09:28.200","v":11,"s":"P"},{"t":"2019-07-17T12:10:27.900","v":11,"s":"P"},{"t":"2019-07-17T12:10:28.500","v":4,"s":"P"},{"t":"2019-07-17T12:10:48.800","v":4,"s":"P"}],
"p20":[{"t":"2019-07-17T12:21:51.800","v":379,"s":"P"},{"t":"2019-07-17T12:22:10.300","v":394,"s":"P"},{"t":"2019-07-17T12:22:30.200","v":405,"s":"P"},{"t":"2019-07-17T12:22:52.900","v":416,"s":"P"},{"t":"2019-07-17T12:27:28.800","v":416,"s":"P"},{"t":"2019-07-17T12:27:37.300","v":206,"s":"P"},{"t":"2019-07-17T12:27:47.300","v":7,"s":"P"},{"t":"2019-07-17T12:27:56.300","v":7,"s":"P"}],
"p21":[{"t":"2019-07-17T13:10","v":80,"s":"P"},{"t":"2019-07-17T13:11","v":11,"s":"P"},{"t":"2019-07-17T13:13","v":55,"s":"P"},{"t":"2019-07-17T13:15","v":63,"s":"P"},{"t":"2019-07-17T14:09","v":63,"s":"P"},{"t":"2019-07-17T14:10","v":11,"s":"P"},{"t":"2019-07-17T14:12","v":50,"s":"P"},{"t":"2019-07-17T14:14","v":63,"s":"P"},{"t":"2019-07-17T15:09","v":63,"s":"P"},{"t":"2019-07-17T15:10","v":11,"s":"P"},{"t":"2019-07-17T15:12","v":50,"s":"P"},{"t":"2019-07-17T15:14","v":63,"s":"P"},{"t":"2019-07-17T16:09","v":63,"s":"P"},{"t":"2019-07-17T16:10","v":11,"s":"P"},{"t":"2019-07-17T16:12","v":50,"s":"P"},{"t":"2019-07-17T16:14","v":63,"s":"P"},{"t":"2019-07-17T17:09","v":60,"s":"P"},{"t":"2019-07-17T17:10","v":11,"s":"P"},{"t":"2019-07-17T17:12","v":50,"s":"P"},{"t":"2019-07-17T17:14","v":60,"s":"P"},{"t":"2019-07-17T18:09","v":58,"s":"P"},{"t":"2019-07-17T18:10","v":11,"s":"P"},{"t":"2019-07-17T18:12","v":50,"s":"P"},{"t":"2019-07-17T18:14","v":60,"s":"P"},{"t":"2019-07-17T19:09","v":62,"s":"P"},{"t":"2019-07-17T19:10","v":11,"s":"P"},{"t":"2019-07-17T19:12","v":50,"s":"P"},{"t":"2019-07-17T19:14","v":63,"s":"P"},{"t":"2019-07-17T20:09","v":63,"s":"P"},{"t":"2019-07-17T20:10","v":11,"s":"P"},{"t":"2019-07-17T20:12","v":50,"s":"P"},{"t":"2019-07-17T20:14","v":63,"s":"P"},{"t":"2019-07-17T21:08","v":63,"s":"P"},{"t":"2019-07-17T21:09","v":11,"s":"P"},{"t":"2019-07-17T21:11","v":55,"s":"P"},{"t":"2019-07-17T21:13","v":70,"s":"P"},{"t":"2019-07-17T22:08","v":70,"s":"P"},{"t":"2019-07-17T22:09","v":11,"s":"P"},{"t":"2019-07-17T22:11","v":60,"s":"P"},{"t":"2019-07-17T22:13","v":74,"s":"P"},{"t":"2019-07-17T23:07","v":74,"s":"P"},{"t":"2019-07-17T23:08","v":11,"s":"P"},{"t":"2019-07-17T23:10","v":60,"s":"P"},{"t":"2019-07-17T23:12","v":74,"s":"P"},{"t":"2019-07-17T23:20:28","v":74,"s":"P"}],
"p22":[{"t":"2019-07-18T09:00:05","v":null,"s":"P"}],
"p23":[{"t":"2019-07-19T06:58","v":100,"s":"P","g":1},{"t":"2019-07-19T07:08","v":130,"s":"P","g":1},{"t":"2019-07-19T07:11","v":630,"s":"P","g":1},{"t":"2019-07-19T07:35","v":620,"s":"P","g":1},{"t":"2019-07-19T07:48","v":100,"s":"P","g":1},{"t":"2019-07-19T08:25","v":100,"s":"P","g":1},{"t":"2019-07-19T08:30","v":160,"s":"P","g":1},{"t":"2019-07-19T08:49","v":185,"s":"P","g":1},{"t":"2019-07-19T08:58","v":160,"s":"P","g":1},{"t":"2019-07-19T09:07","v":100,"s":"P","g":1},{"t":"2019-07-19T22:07","v":100,"s":"P","g":2},{"t":"2019-07-19T22:16","v":130,"s":"P","g":2},{"t":"2019-07-19T22:17","v":0,"s":"P","g":2},{"t":"2019-07-19T22:20","v":100,"s":"P","g":2},
{"t":"2019-07-18T19:12","v":0,"s":"H"},{"t":"2019-07-18T19:13","v":95,"s":"H"},{"t":"2019-07-18T19:21","v":95,"s":"H"},{"t":"2019-07-18T20:07","v":70,"s":"H"},{"t":"2019-07-18T20:13","v":135,"s":"H"},{"t":"2019-07-18T20:20","v":70,"s":"H"},{"t":"2019-07-18T21:02","v":73,"s":"H"},{"t":"2019-07-18T21:11","v":290,"s":"H"},{"t":"2019-07-18T21:20","v":650,"s":"H"},{"t":"2019-07-18T21:26","v":650,"s":"H"},{"t":"2019-07-18T21:33","v":250,"s":"H"},{"t":"2019-07-18T21:39","v":88,"s":"H"},{"t":"2019-07-18T22:06","v":73,"s":"H"},{"t":"2019-07-18T22:10","v":0,"s":"H"},{"t":"2019-07-18T22:15","v":73,"s":"H"},{"t":"2019-07-18T22:43","v":77,"s":"H"},{"t":"2019-07-18T22:52","v":170,"s":"H"},{"t":"2019-07-18T23:01","v":81,"s":"H"},{"t":"2019-07-18T23:56","v":81,"s":"H"},{"t":"2019-07-19T00:06","v":470,"s":"H"},{"t":"2019-07-19T00:11","v":190,"s":"H"},{"t":"2019-07-19T00:18","v":88,"s":"H"},{"t":"2019-07-19T00:51","v":81,"s":"H"},{"t":"2019-07-19T01:02","v":540,"s":"H"},{"t":"2019-07-19T01:10","v":160,"s":"H"},{"t":"2019-07-19T01:19","v":81,"s":"H"},{"t":"2019-07-19T02:05","v":81,"s":"H"},{"t":"2019-07-19T02:10","v":170,"s":"H"},{"t":"2019-07-19T02:20","v":88,"s":"H"},{"t":"2019-07-19T03:18","v":92,"s":"H"},{"t":"2019-07-19T03:27","v":180,"s":"H"},{"t":"2019-07-19T03:37","v":92,"s":"H"},{"t":"2019-07-19T04:08","v":0,"s":"H"},{"t":"2019-07-19T04:13","v":92,"s":"H"},{"t":"2019-07-19T06:58","v":99,"s":"H"},{"t":"2019-07-19T07:08","v":118,"s":"H"},{"t":"2019-07-19T07:11","v":650,"s":"H"},{"t":"2019-07-19T07:17","v":650,"s":"H"},{"t":"2019-07-19T09:25","v":95,"s":"H"},{"t":"2019-07-19T10:11","v":88,"s":"H"},{"t":"2019-07-19T10:15","v":0,"s":"H"},{"t":"2019-07-19T10:20","v":88,"s":"H"},{"t":"2019-07-19T10:39","v":210,"s":"H"},{"t":"2019-07-19T10:48","v":92,"s":"H"},{"t":"2019-07-19T12:10","v":107,"s":"H"},{"t":"2019-07-19T13:42","v":136,"s":"H"},{"t":"2019-07-19T13:57","v":136,"s":"H"},{"t":"2019-07-19T14:00","v":620,"s":"H"},{"t":"2019-07-19T14:10","v":175,"s":"H"},{"t":"2019-07-19T14:19","v":136,"s":"H"},{"t":"2019-07-19T15:32","v":129,"s":"H"},{"t":"2019-07-19T15:43","v":240,"s":"H"},{"t":"2019-07-19T15:54","v":81,"s":"H"},{"t":"2019-07-19T16:13","v":0,"s":"H"},{"t":"2019-07-19T16:27","v":81,"s":"H"},{"t":"2019-07-19T17:04","v":81,"s":"H"},{"t":"2019-07-19T17:10","v":330,"s":"H"},{"t":"2019-07-19T17:19","v":81,"s":"H"},{"t":"2019-07-19T18:17","v":99,"s":"H"},{"t":"2019-07-19T18:27","v":650,"s":"H"},{"t":"2019-07-19T18:36","v":650,"s":"H"},{"t":"2019-07-19T18:45","v":175,"s":"H"},{"t":"2019-07-19T18:58","v":155,"s":"H"},{"t":"2019-07-19T19:09","v":0,"s":"H"},{"t":"2019-07-19T19:22","v":81,"s":"H"},{"t":"2019-07-19T22:34","v":81,"s":"H"},{"t":"2019-07-19T22:38","v":180,"s":"H"},{"t":"2019-07-19T22:49","v":81,"s":"H"},{"t":"2019-07-19T23:35","v":81,"s":"H"},{"t":"2019-07-19T23:40","v":245,"s":"H"},{"t":"2019-07-19T23:51","v":88,"s":"H"},{"t":"2019-07-20T01:10","v":81,"s":"H"},{"t":"2019-07-20T01:12","v":0,"s":"H"},{"t":"2019-07-20T01:19","v":81,"s":"H"},{"t":"2019-07-20T04:08","v":81,"s":"H"},{"t":"2019-07-20T04:14","v":0,"s":"H"},{"t":"2019-07-20T04:26","v":230,"s":"H"},{"t":"2019-07-20T04:37","v":81,"s":"H"},{"t":"2019-07-20T07:08","v":81,"s":"H"},{"t":"2019-07-20T07:12","v":0,"s":"H"},{"t":"2019-07-20T07:17","v":81,"s":"H"},{"t":"2019-07-20T08:39","v":81,"s":"H"},{"t":"2019-07-20T08:45","v":255,"s":"H"},{"t":"2019-07-20T08:52","v":81,"s":"H"},{"t":"2019-07-20T10:11","v":88,"s":"H"},{"t":"2019-07-20T10:15","v":0,"s":"H"},{"t":"2019-07-20T10:24","v":95,"s":"H"},
{"t":"2019-07-18T19:13","v":107,"s":"A"},{"t":"2019-07-18T19:21","v":107,"s":"A"},{"t":"2019-07-18T20:07","v":81,"s":"A"},{"t":"2019-07-18T20:13","v":148,"s":"A"},{"t":"2019-07-18T20:20","v":81,"s":"A"},{"t":"2019-07-18T21:02","v":85,"s":"A"},{"t":"2019-07-18T21:11","v":278,"s":"A"},{"t":"2019-07-18T21:20","v":500,"s":"A"},{"t":"2019-07-18T21:26","v":500,"s":"A"},{"t":"2019-07-18T21:33","v":241,"s":"A"},{"t":"2019-07-18T21:39","v":100,"s":"A"},{"t":"2019-07-18T22:06","v":85,"s":"A"},{"t":"2019-07-18T22:10","v":0,"s":"A"},{"t":"2019-07-18T22:15","v":85,"s":"A"},{"t":"2019-07-18T22:43","v":89,"s":"A"},{"t":"2019-07-18T22:52","v":181,"s":"A"},{"t":"2019-07-18T23:01","v":93,"s":"A"},{"t":"2019-07-18T23:56","v":93,"s":"A"},{"t":"2019-07-19T00:06","v":480,"s":"A"},{"t":"2019-07-19T00:11","v":200,"s":"A"},{"t":"2019-07-19T00:18","v":100,"s":"A"},{"t":"2019-07-19T00:51","v":93,"s":"A"},{"t":"2019-07-19T01:02","v":520,"s":"A"},{"t":"2019-07-19T01:10","v":167,"s":"A"},{"t":"2019-07-19T01:19","v":93,"s":"A"},{"t":"2019-07-19T02:05","v":93,"s":"A"},{"t":"2019-07-19T02:10","v":181,"s":"A"},{"t":"2019-07-19T02:20","v":100,"s":"A"},{"t":"2019-07-19T03:18","v":104,"s":"A"},{"t":"2019-07-19T03:27","v":192,"s":"A"},{"t":"2019-07-19T03:37","v":104,"s":"A"},{"t":"2019-07-19T04:08","v":0,"s":"A"},{"t":"2019-07-19T04:13","v":104,"s":"A"},{"t":"2019-07-19T06:58","v":111,"s":"A"},{"t":"2019-07-19T07:08","v":130,"s":"A"},{"t":"2019-07-19T07:11","v":500,"s":"A"},{"t":"2019-07-19T07:17","v":500,"s":"A"},{"t":"2019-07-19T07:26","v":463,"s":"A"},{"t":"2019-07-19T09:25","v":100,"s":"A"},{"t":"2019-07-19T10:11","v":100,"s":"A"},{"t":"2019-07-19T10:15","v":0,"s":"A"},{"t":"2019-07-19T10:20","v":100,"s":"A"},{"t":"2019-07-19T10:39","v":222,"s":"A"},{"t":"2019-07-19T10:48","v":104,"s":"A"},{"t":"2019-07-19T12:10","v":119,"s":"A"},{"t":"2019-07-19T13:42","v":148,"s":"A"},{"t":"2019-07-19T13:57","v":148,"s":"A"},{"t":"2019-07-19T14:00","v":500,"s":"A"},{"t":"2019-07-19T14:10","v":185,"s":"A"},{"t":"2019-07-19T14:19","v":148,"s":"A"},{"t":"2019-07-19T15:32","v":141,"s":"A"},{"t":"2019-07-19T15:43","v":252,"s":"A"},{"t":"2019-07-19T15:54","v":93,"s":"A"},{"t":"2019-07-19T16:13","v":0,"s":"A"},{"t":"2019-07-19T16:27","v":93,"s":"A"},{"t":"2019-07-19T17:04","v":93,"s":"A"},{"t":"2019-07-19T17:10","v":344,"s":"A"},{"t":"2019-07-19T17:19","v":93,"s":"A"},{"t":"2019-07-19T18:17","v":111,"s":"A"},{"t":"2019-07-19T18:27","v":500,"s":"A"},{"t":"2019-07-19T18:36","v":500,"s":"A"},{"t":"2019-07-19T18:45","v":185,"s":"A"},{"t":"2019-07-19T18:58","v":167,"s":"A"},{"t":"2019-07-19T19:09","v":0,"s":"A"},{"t":"2019-07-19T19:22","v":100,"s":"A"},{"t":"2019-07-19T22:34","v":100,"s":"A"},{"t":"2019-07-19T22:38","v":196,"s":"A"},{"t":"2019-07-19T22:49","v":100,"s":"A"},{"t":"2019-07-19T23:35","v":100,"s":"A"},{"t":"2019-07-19T23:40","v":259,"s":"A"},{"t":"2019-07-19T23:51","v":107,"s":"A"},{"t":"2019-07-20T01:10","v":100,"s":"A"},{"t":"2019-07-20T01:12","v":0,"s":"A"},{"t":"2019-07-20T01:19","v":100,"s":"A"},{"t":"2019-07-20T04:08","v":100,"s":"A"},{"t":"2019-07-20T04:14","v":0,"s":"A"},{"t":"2019-07-20T04:26","v":241,"s":"A"},{"t":"2019-07-20T04:37","v":100,"s":"A"},{"t":"2019-07-20T07:08","v":100,"s":"A"},{"t":"2019-07-20T07:12","v":0,"s":"A"},{"t":"2019-07-20T07:17","v":100,"s":"A"},{"t":"2019-07-20T08:39","v":100,"s":"A"},{"t":"2019-07-20T08:45","v":270,"s":"A"},{"t":"2019-07-20T08:52","v":100,"s":"A"},{"t":"2019-07-20T10:11","v":107,"s":"A"},{"t":"2019-07-20T10:15","v":0,"s":"A"},{"t":"2019-07-20T10:24","v":110,"s":"A"}],
"p24":[{"t":"2019-07-21T11:00:36","v":285,"s":"P"},{"t":"2019-07-21T11:00:45","v":40,"s":"P"},{"t":"2019-07-21T11:00:57","v":4,"s":"P"},{"t":"2019-07-21T11:02:20","v":4,"s":"P"},{"t":"2019-07-21T11:02:35","v":95,"s":"P"},{"t":"2019-07-21T11:02:56","v":296,"s":"P"},{"t":"2019-07-21T11:03:35","v":351,"s":"P"},{"t":"2019-07-21T11:04:34","v":380,"s":"P"},{"t":"2019-07-21T11:06:19","v":388,"s":"P"},{"t":"2019-07-21T11:18:44","v":388,"s":"P"},{"t":"2019-07-21T11:18:59","v":399,"s":"P"},{"t":"2019-07-21T11:20:13","v":399,"s":"P"},{"t":"2019-07-21T11:20:28","v":388,"s":"P"},{"t":"2019-07-21T11:23:57","v":388,"s":"P"},{"t":"2019-07-21T11:24:12","v":378,"s":"P"},{"t":"2019-07-21T11:26:00","v":386,"s":"P"},{"t":"2019-07-21T11:27:00","v":376,"s":"P"},{"t":"2019-07-21T11:28:25","v":388,"s":"P"},{"t":"2019-07-21T12:04:17","v":388,"s":"P"}],
"p25":[{"t":"2019-07-22T10:00:50","v":null,"s":"P"}],
"p26":[{"t":"2019-07-22T13:01:48","v":110,"s":"P"},{"t":"2019-07-22T13:02:00","v":18,"s":"P"},{"t":"2019-07-22T13:03:40","v":7,"s":"P"},{"t":"2019-07-22T13:04:14","v":63,"s":"P"},{"t":"2019-07-22T13:05:37","v":85,"s":"P"},{"t":"2019-07-22T13:09:05","v":92,"s":"P"},{"t":"2019-07-22T13:12:12","v":92,"s":"P"},{"t":"2019-07-22T13:13:56","v":74,"s":"P"},{"t":"2019-07-22T13:19:28","v":66,"s":"P"},{"t":"2019-07-22T13:30:34","v":74,"s":"P"},{"t":"2019-07-22T13:37:29","v":59,"s":"P"},{"t":"2019-07-22T13:47:53","v":59,"s":"P"},{"t":"2019-07-22T13:48:35","v":48,"s":"P"},{"t":"2019-07-22T14:03:49","v":52,"s":"P"},{"t":"2019-07-22T14:23:14","v":74,"s":"P"},{"t":"2019-07-22T14:27:23","v":66,"s":"P"},{"t":"2019-07-22T14:30:38","v":88,"s":"P"}],
"p27":[{"t":"2019-07-24T01:59","v":110,"s":"P"},{"t":"2019-07-24T02:16","v":650,"s":"P"},{"t":"2019-07-24T02:48","v":650,"s":"P"},{"t":"2019-07-24T03:05","v":110,"s":"P"},{"t":"2019-07-24T04:24","v":110,"s":"P"},{"t":"2019-07-24T04:30","v":225,"s":"P"},{"t":"2019-07-24T04:36","v":110,"s":"P"},{"t":"2019-07-24T05:27","v":110,"s":"P"},{"t":"2019-07-24T05:33","v":225,"s":"P"},{"t":"2019-07-24T05:39","v":110,"s":"P"},{"t":"2019-07-24T06:28","v":110,"s":"P"},{"t":"2019-07-24T06:34","v":225,"s":"P"},{"t":"2019-07-24T06:40","v":110,"s":"P"},{"t":"2019-07-24T06:57","v":110,"s":"P"},{"t":"2019-07-24T06:58","v":0,"s":"P"},{"t":"2019-07-24T07:00","v":110,"s":"P"},{"t":"2019-07-24T07:29","v":110,"s":"P"},{"t":"2019-07-24T07:35","v":225,"s":"P"},{"t":"2019-07-24T07:41","v":110,"s":"P"},{"t":"2019-07-24T08:30","v":110,"s":"P"},{"t":"2019-07-24T08:36","v":227,"s":"P"},{"t":"2019-07-24T08:42","v":110,"s":"P"},{"t":"2019-07-24T09:33","v":110,"s":"P"},{"t":"2019-07-24T09:41","v":650,"s":"P"},{"t":"2019-07-24T09:49","v":110,"s":"P"},{"t":"2019-07-24T10:00","v":110,"s":"P"},{"t":"2019-07-24T10:01","v":0,"s":"P"},{"t":"2019-07-24T10:03","v":110,"s":"P"},{"t":"2019-07-24T10:29","v":110,"s":"P"},{"t":"2019-07-24T10:35","v":225,"s":"P"},{"t":"2019-07-24T10:41","v":110,"s":"P"},{"t":"2019-07-24T11:30","v":110,"s":"P"},{"t":"2019-07-24T11:36","v":225,"s":"P"},{"t":"2019-07-24T11:42","v":110,"s":"P"},{"t":"2019-07-24T12:31","v":110,"s":"P"},{"t":"2019-07-24T12:37","v":225,"s":"P"},{"t":"2019-07-24T12:43","v":110,"s":"P"},{"t":"2019-07-24T13:00","v":110,"s":"P"},{"t":"2019-07-24T13:01","v":0,"s":"P"},{"t":"2019-07-24T13:03","v":110,"s":"P"},{"t":"2019-07-24T13:29","v":110,"s":"P"},{"t":"2019-07-24T13:35","v":225,"s":"P"},{"t":"2019-07-24T13:41","v":110,"s":"P"},{"t":"2019-07-24T14:30","v":110,"s":"P"},{"t":"2019-07-24T14:38","v":650,"s":"P"},{"t":"2019-07-24T14:46","v":110,"s":"P"},{"t":"2019-07-24T15:33","v":110,"s":"P"},{"t":"2019-07-24T15:39","v":225,"s":"P"},{"t":"2019-07-24T15:45","v":110,"s":"P"},{"t":"2019-07-24T16:00","v":110,"s":"P"},{"t":"2019-07-24T16:01","v":0,"s":"P"},{"t":"2019-07-24T16:03","v":110,"s":"P"},{"t":"2019-07-24T16:34","v":110,"s":"P"},{"t":"2019-07-24T16:40","v":520,"s":"P"},{"t":"2019-07-24T16:46","v":110,"s":"P"},{"t":"2019-07-24T17:37","v":110,"s":"P"},{"t":"2019-07-24T17:43","v":225,"s":"P"},{"t":"2019-07-24T17:49","v":110,"s":"P"},{"t":"2019-07-24T18:33","v":110,"s":"P"},{"t":"2019-07-24T18:39","v":225,"s":"P"},{"t":"2019-07-24T18:45","v":110,"s":"P"},{"t":"2019-07-24T18:57","v":110,"s":"P"},{"t":"2019-07-24T18:58","v":0,"s":"P"},{"t":"2019-07-24T19:00","v":110,"s":"P"},{"t":"2019-07-24T19:34","v":110,"s":"P"},{"t":"2019-07-24T19:40","v":225,"s":"P"},{"t":"2019-07-24T19:46","v":110,"s":"P"},{"t":"2019-07-24T20:37","v":110,"s":"P"},{"t":"2019-07-24T20:45","v":650,"s":"P"},{"t":"2019-07-24T20:53","v":110,"s":"P"},{"t":"2019-07-24T21:33","v":110,"s":"P"},{"t":"2019-07-24T21:39","v":225,"s":"P"},{"t":"2019-07-24T21:45","v":110,"s":"P"},{"t":"2019-07-24T22:00","v":110,"s":"P"},{"t":"2019-07-24T22:01","v":0,"s":"P"},{"t":"2019-07-24T22:03","v":110,"s":"P"},{"t":"2019-07-24T22:34","v":110,"s":"P"},{"t":"2019-07-24T22:40","v":225,"s":"P"},{"t":"2019-07-24T22:46","v":110,"s":"P"},{"t":"2019-07-24T23:35","v":110,"s":"P"},{"t":"2019-07-24T23:41","v":225,"s":"P"},{"t":"2019-07-24T23:47","v":110,"s":"P"},{"t":"2019-07-24T23:55","v":110,"s":"P"},
{"t":"2019-07-23T13:01","v":0,"s":"H"},{"t":"2019-07-23T13:13","v":81,"s":"H"},{"t":"2019-07-23T13:50","v":81,"s":"H"},{"t":"2019-07-23T13:54","v":235,"s":"H"},{"t":"2019-07-23T14:02","v":81,"s":"H"},{"t":"2019-07-23T15:27","v":85,"s":"H"},{"t":"2019-07-23T15:34","v":540,"s":"H"},{"t":"2019-07-23T15:44","v":85,"s":"H"},{"t":"2019-07-23T17:04","v":85,"s":"H"},{"t":"2019-07-23T17:11","v":575,"s":"H"},{"t":"2019-07-23T17:21","v":90,"s":"H"},{"t":"2019-07-23T18:00","v":85,"s":"H"},{"t":"2019-07-23T18:10","v":650,"s":"H"},{"t":"2019-07-23T18:20","v":90,"s":"H"},{"t":"2019-07-23T19:01","v":82,"s":"H"},{"t":"2019-07-23T19:11","v":200,"s":"H"},{"t":"2019-07-23T19:20","v":82,"s":"H"},{"t":"2019-07-23T20:14","v":85,"s":"H"},{"t":"2019-07-23T20:24","v":300,"s":"H"},{"t":"2019-07-23T20:33","v":85,"s":"H"},{"t":"2019-07-23T21:51","v":85,"s":"H"},{"t":"2019-07-23T21:56","v":0,"s":"H"},{"t":"2019-07-23T22:01","v":85,"s":"H"},{"t":"2019-07-23T22:08","v":650,"s":"H"},{"t":"2019-07-23T22:20","v":85,"s":"H"},{"t":"2019-07-24T00:49","v":85,"s":"H"},{"t":"2019-07-24T00:58","v":650,"s":"H"},{"t":"2019-07-24T01:06","v":0,"s":"H"},{"t":"2019-07-24T01:18","v":99,"s":"H"},{"t":"2019-07-24T04:01","v":99,"s":"H"},{"t":"2019-07-24T04:08","v":0,"s":"H"},{"t":"2019-07-24T04:14","v":99,"s":"H"},{"t":"2019-07-24T17:36","v":99,"s":"H"},{"t":"2019-07-24T17:43","v":92,"s":"H"},{"t":"2019-07-25T00:53","v":92,"s":"H"},{"t":"2019-07-25T01:06","v":0,"s":"H"},{"t":"2019-07-25T01:13","v":200,"s":"H"},{"t":"2019-07-25T01:22","v":82,"s":"H"},{"t":"2019-07-25T02:59","v":82,"s":"H"},{"t":"2019-07-25T03:07","v":650,"s":"H"},{"t":"2019-07-25T03:19","v":82,"s":"H"},{"t":"2019-07-25T03:56","v":0,"s":"H"},{"t":"2019-07-25T04:02","v":82,"s":"H"},{"t":"2019-07-25T05:43","v":82,"s":"H"},{"t":"2019-07-25T05:50","v":210,"s":"H"},{"t":"2019-07-25T06:00","v":82,"s":"H"},{"t":"2019-07-25T06:58","v":0,"s":"H"},{"t":"2019-07-25T07:04","v":82,"s":"H"},{"t":"2019-07-25T07:27","v":82,"s":"H"},{"t":"2019-07-25T07:35","v":205,"s":"H"},{"t":"2019-07-25T07:44","v":82,"s":"H"},{"t":"2019-07-25T10:00","v":0,"s":"H"},{"t":"2019-07-25T10:06","v":82,"s":"H"},{"t":"2019-07-25T10:17","v":82,"s":"H"},{"t":"2019-07-25T10:25","v":650,"s":"H"},{"t":"2019-07-25T10:37","v":82,"s":"H"},{"t":"2019-07-25T13:02","v":0,"s":"H"},{"t":"2019-07-25T13:08","v":82,"s":"H"},{"t":"2019-07-25T14:54","v":82,"s":"H"},{"t":"2019-07-25T15:02","v":240,"s":"H"},{"t":"2019-07-25T15:11","v":82,"s":"H"},{"t":"2019-07-25T16:00","v":0,"s":"H"},{"t":"2019-07-25T16:06","v":82,"s":"H"},{"t":"2019-07-25T16:59","v":82,"s":"H"},
{"t":"2019-07-23T13:13","v":91,"s":"A"},{"t":"2019-07-23T13:50","v":91,"s":"A"},{"t":"2019-07-23T13:54","v":245,"s":"A"},{"t":"2019-07-23T14:02","v":91,"s":"A"},{"t":"2019-07-23T15:27","v":95,"s":"A"},{"t":"2019-07-23T15:34","v":500,"s":"A"},{"t":"2019-07-23T15:44","v":95,"s":"A"},{"t":"2019-07-23T17:04","v":95,"s":"A"},{"t":"2019-07-23T17:11","v":500,"s":"A"},{"t":"2019-07-23T17:21","v":100,"s":"A"},{"t":"2019-07-23T18:00","v":95,"s":"A"},{"t":"2019-07-23T18:10","v":490,"s":"A"},{"t":"2019-07-23T18:20","v":100,"s":"A"},{"t":"2019-07-23T19:01","v":92,"s":"A"},{"t":"2019-07-23T19:11","v":209,"s":"A"},{"t":"2019-07-23T19:20","v":92,"s":"A"},{"t":"2019-07-23T20:14","v":95,"s":"A"},{"t":"2019-07-23T20:24","v":311,"s":"A"},{"t":"2019-07-23T20:33","v":95,"s":"A"},{"t":"2019-07-23T21:51","v":95,"s":"A"},{"t":"2019-07-23T21:56","v":0,"s":"A"},{"t":"2019-07-23T22:01","v":95,"s":"A"},{"t":"2019-07-23T22:08","v":500,"s":"A"},{"t":"2019-07-23T22:20","v":95,"s":"A"},{"t":"2019-07-24T00:49","v":95,"s":"A"},{"t":"2019-07-24T00:58","v":500,"s":"A"},{"t":"2019-07-24T01:06","v":0,"s":"A"},{"t":"2019-07-24T01:18","v":117,"s":"A"},{"t":"2019-07-24T04:01","v":117,"s":"A"},{"t":"2019-07-24T04:08","v":0,"s":"A"},{"t":"2019-07-24T04:14","v":117,"s":"A"},{"t":"2019-07-24T11:06","v":117,"s":"A"},{"t":"2019-07-24T11:10","v":106,"s":"A"},{"t":"2019-07-24T17:36","v":106,"s":"A"},{"t":"2019-07-24T17:43","v":99,"s":"A"},{"t":"2019-07-25T00:53","v":99,"s":"A"},{"t":"2019-07-25T01:06","v":0,"s":"A"},{"t":"2019-07-25T01:13","v":209,"s":"A"},{"t":"2019-07-25T01:22","v":91,"s":"A"},{"t":"2019-07-25T02:59","v":91,"s":"A"},{"t":"2019-07-25T03:07","v":500,"s":"A"},{"t":"2019-07-25T03:19","v":91,"s":"A"},{"t":"2019-07-25T03:56","v":0,"s":"A"},{"t":"2019-07-25T04:02","v":91,"s":"A"},{"t":"2019-07-25T05:43","v":91,"s":"A"},{"t":"2019-07-25T05:50","v":223,"s":"A"},{"t":"2019-07-25T06:00","v":91,"s":"A"},{"t":"2019-07-25T06:58","v":0,"s":"A"},{"t":"2019-07-25T07:04","v":91,"s":"A"},{"t":"2019-07-25T07:27","v":91,"s":"A"},{"t":"2019-07-25T07:35","v":216,"s":"A"},{"t":"2019-07-25T07:44","v":91,"s":"A"},{"t":"2019-07-25T10:00","v":0,"s":"A"},{"t":"2019-07-25T10:06","v":91,"s":"A"},{"t":"2019-07-25T10:17","v":91,"s":"A"},{"t":"2019-07-25T10:25","v":500,"s":"A"},{"t":"2019-07-25T10:37","v":91,"s":"A"},{"t":"2019-07-25T13:02","v":0,"s":"A"},{"t":"2019-07-25T13:08","v":91,"s":"A"},{"t":"2019-07-25T14:54","v":91,"s":"A"},{"t":"2019-07-25T15:02","v":252,"s":"A"},{"t":"2019-07-25T15:11","v":91,"s":"A"},{"t":"2019-07-25T16:00","v":0,"s":"A"},{"t":"2019-07-25T16:06","v":91,"s":"A"},{"t":"2019-07-25T16:59","v":91,"s":"A"}],
"p28":[{"t":"2019-07-26T09:30:59.106","v":199,"s":"P"},{"t":"2019-07-26T09:31:04.320","v":92,"s":"P"},{"t":"2019-07-26T09:31:08.790","v":7,"s":"P"},{"t":"2019-07-26T09:31:18.980","v":4,"s":"P"},{"t":"2019-07-26T09:31:19.220","v":11,"s":"P"},{"t":"2019-07-26T09:32:02.790","v":11,"s":"P"}],
"p29":[{"t":"2019-07-27T17:27:27","v":55,"s":"P"},{"t":"2019-07-27T17:28:00","v":7,"s":"P"},{"t":"2019-07-27T17:29:00","v":55,"s":"P"},{"t":"2019-07-27T17:30:00","v":66,"s":"P"},{"t":"2019-07-27T17:42:20","v":66,"s":"P"},{"t":"2019-07-27T17:42:30","v":5,"s":"P"},{"t":"2019-07-27T17:44:00","v":5,"s":"P"},{"t":"2019-07-27T17:44:30","v":50,"s":"P"},{"t":"2019-07-27T17:45:30","v":66,"s":"P"},{"t":"2019-07-27T17:57:20","v":66,"s":"P"},{"t":"2019-07-27T17:57:30","v":5,"s":"P"},{"t":"2019-07-27T17:59:00","v":5,"s":"P"},{"t":"2019-07-27T17:59:30","v":55,"s":"P"},{"t":"2019-07-27T18:00:30","v":70,"s":"P"},{"t":"2019-07-27T18:12:20","v":70,"s":"P"},{"t":"2019-07-27T18:12:30","v":5,"s":"P"},{"t":"2019-07-27T18:14:00","v":5,"s":"P"},{"t":"2019-07-27T18:14:30","v":55,"s":"P"},{"t":"2019-07-27T18:15:30","v":70,"s":"P"},{"t":"2019-07-27T18:27:20","v":70,"s":"P"},{"t":"2019-07-27T18:27:30","v":5,"s":"P"},{"t":"2019-07-27T18:29:00","v":5,"s":"P"},{"t":"2019-07-27T18:29:30","v":65,"s":"P"},{"t":"2019-07-27T18:30:30","v":80,"s":"P"},{"t":"2019-07-27T18:36:00","v":80,"s":"P"},{"t":"2019-07-27T18:38:21","v":165,"s":"P"},{"t":"2019-07-27T18:41:03","v":366,"s":"P"},{"t":"2019-07-27T18:41:39","v":348,"s":"P"},{"t":"2019-07-27T18:42:00","v":7,"s":"P"},{"t":"2019-07-27T18:44:00","v":7,"s":"P"},{"t":"2019-07-27T18:44:45","v":275,"s":"P"},{"t":"2019-07-27T18:47:27","v":322,"s":"P"},{"t":"2019-07-27T18:54:45","v":322,"s":"P"},{"t":"2019-07-27T18:56:33","v":238,"s":"P"},{"t":"2019-07-27T18:57:27","v":7,"s":"P"},{"t":"2019-07-27T18:58:51","v":7,"s":"P"},{"t":"2019-07-27T19:00:09","v":201,"s":"P"},{"t":"2019-07-27T19:08:21","v":212,"s":"P"},{"t":"2019-07-27T19:09:15","v":238,"s":"P"},{"t":"2019-07-27T19:11:03","v":275,"s":"P"},{"t":"2019-07-27T19:11:39","v":7,"s":"P"},{"t":"2019-07-27T19:13:27","v":7,"s":"P"},{"t":"2019-07-27T19:14:09","v":220,"s":"P"},{"t":"2019-07-27T19:16:33","v":256,"s":"P"},{"t":"2019-07-27T19:19:15","v":220,"s":"P"},{"t":"2019-07-27T19:21:03","v":165,"s":"P"},{"t":"2019-07-27T19:26:33","v":157,"s":"P"},{"t":"2019-07-27T19:27:27","v":7,"s":"P"},{"t":"2019-07-27T19:28:51","v":7,"s":"P"},{"t":"2019-07-27T19:29:39","v":117,"s":"P"},{"t":"2019-07-27T19:31:57","v":139,"s":"P"},{"t":"2019-07-27T19:37:27","v":135,"s":"P"},{"t":"2019-07-27T19:40:09","v":117,"s":"P"},{"t":"2019-07-27T19:41:57","v":7,"s":"P"},{"t":"2019-07-27T19:43:27","v":7,"s":"P"},{"t":"2019-07-27T19:44:45","v":73,"s":"P"},{"t":"2019-07-27T19:48:21","v":91,"s":"P"},{"t":"2019-07-27T19:55:39","v":88,"s":"P"},{"t":"2019-07-27T19:57:27","v":7,"s":"P"},{"t":"2019-07-27T19:58:51","v":7,"s":"P"},{"t":"2019-07-27T19:59:30","v":55,"s":"P"},{"t":"2019-07-27T20:00:30","v":70,"s":"P"},{"t":"2019-07-27T20:12:20","v":70,"s":"P"},{"t":"2019-07-27T20:12:30","v":5,"s":"P"},{"t":"2019-07-27T20:14:00","v":5,"s":"P"},{"t":"2019-07-27T20:14:30","v":55,"s":"P"},{"t":"2019-07-27T20:15:30","v":70,"s":"P"},{"t":"2019-07-27T20:27:20","v":70,"s":"P"},{"t":"2019-07-27T20:27:30","v":5,"s":"P"},{"t":"2019-07-27T20:29:00","v":5,"s":"P"},{"t":"2019-07-27T20:29:30","v":55,"s":"P"},{"t":"2019-07-27T20:30:30","v":70,"s":"P"},{"t":"2019-07-27T20:42:20","v":70,"s":"P"},{"t":"2019-07-27T20:42:30","v":5,"s":"P"},{"t":"2019-07-27T20:44:00","v":5,"s":"P"},{"t":"2019-07-27T20:44:30","v":55,"s":"P"},{"t":"2019-07-27T20:45:30","v":70,"s":"P"},{"t":"2019-07-27T20:57:20","v":70,"s":"P"},{"t":"2019-07-27T20:57:30","v":5,"s":"P"},{"t":"2019-07-27T20:59:00","v":5,"s":"P"},{"t":"2019-07-27T20:59:30","v":55,"s":"P"},{"t":"2019-07-27T21:00:30","v":70,"s":"P"},{"t":"2019-07-27T21:12:20","v":66,"s":"P"},{"t":"2019-07-27T21:12:30","v":5,"s":"P"},{"t":"2019-07-27T21:14:00","v":5,"s":"P"},{"t":"2019-07-27T21:14:30","v":50,"s":"P"},{"t":"2019-07-27T21:15:30","v":62,"s":"P"},{"t":"2019-07-27T21:20:33","v":62,"s":"P"}],
"p30":[{"t":"2019-07-29T09:51:06","v":4,"s":"P"},{"t":"2019-07-29T09:52:33","v":4,"s":"P"},{"t":"2019-07-29T09:52:42","v":55,"s":"P"},{"t":"2019-07-29T09:52:50","v":202,"s":"P"},{"t":"2019-07-29T09:52:59","v":313,"s":"P"},{"t":"2019-07-29T09:53:15","v":379,"s":"P"},{"t":"2019-07-29T09:53:36","v":416,"s":"P"},{"t":"2019-07-29T09:54:05","v":438,"s":"P"},{"t":"2019-07-29T09:54:47","v":449,"s":"P"},{"t":"2019-07-29T09:55:28","v":453,"s":"P"},{"t":"2019-07-29T09:56:10","v":438,"s":"P"},{"t":"2019-07-29T09:57:33","v":442,"s":"P"},{"t":"2019-07-29T09:57:42","v":435,"s":"P"},{"t":"2019-07-29T09:59:38","v":431,"s":"P"},{"t":"2019-07-29T10:02:25","v":431,"s":"P"},{"t":"2019-07-29T10:03:49","v":442,"s":"P"},{"t":"2019-07-29T10:07:17","v":449,"s":"P"},{"t":"2019-07-29T10:07:59","v":438,"s":"P"},{"t":"2019-07-29T10:08:54","v":435,"s":"P"}],
"p31":[{"t":"2019-07-30T10:51","v":0,"s":"P","g":1},{"t":"2019-07-30T10:53","v":80,"s":"P","g":1},{"t":"2019-07-31T22:25","v":95,"s":"P","g":2},{"t":"2019-07-31T22:42","v":92,"s":"P","g":2},
{"t":"2019-07-30T10:51","v":0,"s":"H"},{"t":"2019-07-30T10:59","v":79,"s":"H"},{"t":"2019-07-30T11:36","v":79,"s":"H"},{"t":"2019-07-30T11:45","v":170,"s":"H"},{"t":"2019-07-30T11:53","v":79,"s":"H"},{"t":"2019-07-30T13:57","v":79,"s":"H"},{"t":"2019-07-30T14:09","v":650,"s":"H"},{"t":"2019-07-30T14:17","v":650,"s":"H"},{"t":"2019-07-30T14:26","v":190,"s":"H"},{"t":"2019-07-30T14:37","v":79,"s":"H"},{"t":"2019-07-30T15:45","v":79,"s":"H"},{"t":"2019-07-30T15:50","v":0,"s":"H"},{"t":"2019-07-30T15:56","v":79,"s":"H"},{"t":"2019-07-30T16:38","v":79,"s":"H"},{"t":"2019-07-30T16:47","v":225,"s":"H"},{"t":"2019-07-30T16:55","v":83,"s":"H"},{"t":"2019-07-30T18:07","v":83,"s":"H"},{"t":"2019-07-30T18:19","v":650,"s":"H"},{"t":"2019-07-30T18:27","v":240,"s":"H"},{"t":"2019-07-30T18:36","v":88,"s":"H"},{"t":"2019-07-30T20:01","v":88,"s":"H"},{"t":"2019-07-30T20:10","v":380,"s":"H"},{"t":"2019-07-30T20:18","v":88,"s":"H"},{"t":"2019-07-30T20:47","v":88,"s":"H"},{"t":"2019-07-30T20:52","v":0,"s":"H"},{"t":"2019-07-30T20:58","v":88,"s":"H"},{"t":"2019-07-30T21:50","v":88,"s":"H"},{"t":"2019-07-30T22:02","v":650,"s":"H"},{"t":"2019-07-30T22:11","v":190,"s":"H"},{"t":"2019-07-30T22:19","v":98,"s":"H"},{"t":"2019-07-31T00:30","v":98,"s":"H"},{"t":"2019-07-31T00:42","v":650,"s":"H"},{"t":"2019-07-31T00:50","v":190,"s":"H"},{"t":"2019-07-31T00:58","v":98,"s":"H"},{"t":"2019-07-31T01:44","v":98,"s":"H"},{"t":"2019-07-31T01:49","v":0,"s":"H"},{"t":"2019-07-31T01:54","v":128,"s":"H"},{"t":"2019-07-31T02:39","v":134,"s":"H"},{"t":"2019-07-31T02:48","v":650,"s":"H"},{"t":"2019-07-31T03:00","v":620,"s":"H"},{"t":"2019-07-31T03:13","v":490,"s":"H"},{"t":"2019-07-31T03:46","v":470,"s":"H"},{"t":"2019-07-31T03:55","v":153,"s":"H"},{"t":"2019-07-31T04:03","v":138,"s":"H"},{"t":"2019-07-31T06:47","v":116,"s":"H"},{"t":"2019-07-31T06:51","v":0,"s":"H"},{"t":"2019-07-31T06:57","v":116,"s":"H"},{"t":"2019-07-31T07:09","v":650,"s":"H"},{"t":"2019-07-31T07:17","v":190,"s":"H"},{"t":"2019-07-31T07:24","v":134,"s":"H"},{"t":"2019-07-31T09:39","v":142,"s":"H"},{"t":"2019-07-31T09:47","v":325,"s":"H"},{"t":"2019-07-31T09:55","v":138,"s":"H"},{"t":"2019-07-31T11:27","v":98,"s":"H"},{"t":"2019-07-31T11:39","v":650,"s":"H"},{"t":"2019-07-31T11:49","v":650,"s":"H"},{"t":"2019-07-31T11:53","v":0,"s":"H"},{"t":"2019-07-31T11:56","v":650,"s":"H"},{"t":"2019-07-31T12:10","v":650,"s":"H"},{"t":"2019-07-31T12:26","v":134,"s":"H"},{"t":"2019-07-31T14:15","v":116,"s":"H"},{"t":"2019-07-31T14:24","v":650,"s":"H"},{"t":"2019-07-31T14:34","v":190,"s":"H"},{"t":"2019-07-31T14:44","v":108,"s":"H"},{"t":"2019-07-31T16:04","v":108,"s":"H"},{"t":"2019-07-31T16:18","v":650,"s":"H"},{"t":"2019-07-31T16:28","v":190,"s":"H"},{"t":"2019-07-31T16:41","v":108,"s":"H"},{"t":"2019-07-31T16:55","v":0,"s":"H"},{"t":"2019-07-31T17:05","v":98,"s":"H"},{"t":"2019-07-31T18:15","v":98,"s":"H"},{"t":"2019-07-31T18:29","v":650,"s":"H"},{"t":"2019-07-31T18:39","v":190,"s":"H"},{"t":"2019-07-31T18:52","v":98,"s":"H"},{"t":"2019-07-31T20:58","v":98,"s":"H"},{"t":"2019-07-31T21:07","v":250,"s":"H"},{"t":"2019-07-31T21:15","v":98,"s":"H"},{"t":"2019-07-31T21:57","v":98,"s":"H"},{"t":"2019-07-31T22:00","v":0,"s":"H"},{"t":"2019-07-31T22:06","v":88,"s":"H"},{"t":"2019-07-31T22:30","v":88,"s":"H"},
{"t":"2019-07-30T10:59","v":91,"s":"A"},{"t":"2019-07-30T11:36","v":91,"s":"A"},{"t":"2019-07-30T11:45","v":183,"s":"A"},{"t":"2019-07-30T11:53","v":91,"s":"A"},{"t":"2019-07-30T13:57","v":91,"s":"A"},{"t":"2019-07-30T14:09","v":500,"s":"A"},{"t":"2019-07-30T14:17","v":500,"s":"A"},{"t":"2019-07-30T14:26","v":200,"s":"A"},{"t":"2019-07-30T14:37","v":91,"s":"A"},{"t":"2019-07-30T15:45","v":91,"s":"A"},{"t":"2019-07-30T15:50","v":0,"s":"A"},{"t":"2019-07-30T15:56","v":91,"s":"A"},{"t":"2019-07-30T16:38","v":91,"s":"A"},{"t":"2019-07-30T16:47","v":238,"s":"A"},{"t":"2019-07-30T16:55","v":95,"s":"A"},{"t":"2019-07-30T18:07","v":95,"s":"A"},{"t":"2019-07-30T18:19","v":500,"s":"A"},{"t":"2019-07-30T18:27","v":250,"s":"A"},{"t":"2019-07-30T18:36","v":100,"s":"A"},{"t":"2019-07-30T20:01","v":100,"s":"A"},{"t":"2019-07-30T20:10","v":395,"s":"A"},{"t":"2019-07-30T20:18","v":100,"s":"A"},{"t":"2019-07-30T20:47","v":100,"s":"A"},{"t":"2019-07-30T20:52","v":0,"s":"A"},{"t":"2019-07-30T20:58","v":100,"s":"A"},{"t":"2019-07-30T21:50","v":100,"s":"A"},{"t":"2019-07-30T22:02","v":500,"s":"A"},{"t":"2019-07-30T22:11","v":200,"s":"A"},{"t":"2019-07-30T22:19","v":110,"s":"A"},{"t":"2019-07-31T00:30","v":110,"s":"A"},{"t":"2019-07-31T00:42","v":500,"s":"A"},{"t":"2019-07-31T00:50","v":200,"s":"A"},{"t":"2019-07-31T00:58","v":110,"s":"A"},{"t":"2019-07-31T01:44","v":110,"s":"A"},{"t":"2019-07-31T01:49","v":0,"s":"A"},{"t":"2019-07-31T01:54","v":140,"s":"A"},{"t":"2019-07-31T02:39","v":146,"s":"A"},{"t":"2019-07-31T02:48","v":500,"s":"A"},{"t":"2019-07-31T03:13","v":500,"s":"A"},{"t":"2019-07-31T03:46","v":483,"s":"A"},{"t":"2019-07-31T03:55","v":165,"s":"A"},{"t":"2019-07-31T04:03","v":150,"s":"A"},{"t":"2019-07-31T06:47","v":128,"s":"A"},{"t":"2019-07-31T06:51","v":0,"s":"A"},{"t":"2019-07-31T06:57","v":128,"s":"A"},{"t":"2019-07-31T07:09","v":500,"s":"A"},{"t":"2019-07-31T07:17","v":200,"s":"A"},{"t":"2019-07-31T07:24","v":146,"s":"A"},{"t":"2019-07-31T09:39","v":154,"s":"A"},{"t":"2019-07-31T09:47","v":337,"s":"A"},{"t":"2019-07-31T09:55","v":150,"s":"A"},{"t":"2019-07-31T11:27","v":110,"s":"A"},{"t":"2019-07-31T11:39","v":500,"s":"A"},{"t":"2019-07-31T11:49","v":500,"s":"A"},{"t":"2019-07-31T11:53","v":0,"s":"A"},{"t":"2019-07-31T11:56","v":500,"s":"A"},{"t":"2019-07-31T12:10","v":500,"s":"A"},{"t":"2019-07-31T12:26","v":146,"s":"A"},{"t":"2019-07-31T14:15","v":128,"s":"A"},{"t":"2019-07-31T14:24","v":500,"s":"A"},{"t":"2019-07-31T14:34","v":200,"s":"A"},{"t":"2019-07-31T14:44","v":120,"s":"A"},{"t":"2019-07-31T16:04","v":120,"s":"A"},{"t":"2019-07-31T16:18","v":500,"s":"A"},{"t":"2019-07-31T16:28","v":200,"s":"A"},{"t":"2019-07-31T16:41","v":120,"s":"A"},{"t":"2019-07-31T16:55","v":0,"s":"A"},{"t":"2019-07-31T17:05","v":110,"s":"A"},{"t":"2019-07-31T18:15","v":110,"s":"A"},{"t":"2019-07-31T18:29","v":500,"s":"A"},{"t":"2019-07-31T18:39","v":200,"s":"A"},{"t":"2019-07-31T18:52","v":110,"s":"A"},{"t":"2019-07-31T20:58","v":110,"s":"A"},{"t":"2019-07-31T21:07","v":263,"s":"A"},{"t":"2019-07-31T21:15","v":110,"s":"A"},{"t":"2019-07-31T21:57","v":110,"s":"A"},{"t":"2019-07-31T22:00","v":0,"s":"A"},{"t":"2019-07-31T22:06","v":100,"s":"A"},{"t":"2019-07-31T22:30","v":100,"s":"A"}],
"p32":[{"t":"2019-08-01T23:19:48","v":269,"s":"P"},{"t":"2019-08-01T23:19:58","v":40,"s":"P"},{"t":"2019-08-01T23:20:06","v":7,"s":"P"},{"t":"2019-08-01T23:21:36","v":7,"s":"P"},{"t":"2019-08-01T23:21:47","v":51,"s":"P"},{"t":"2019-08-01T23:21:58","v":222,"s":"P"},{"t":"2019-08-01T23:22:07","v":295,"s":"P"},{"t":"2019-08-01T23:22:25","v":349,"s":"P"},{"t":"2019-08-01T23:22:51","v":378,"s":"P"},{"t":"2019-08-01T23:23:26","v":400,"s":"P"},{"t":"2019-08-01T23:23:57","v":415,"s":"P"},{"t":"2019-08-01T23:25:03","v":415,"s":"P"},{"t":"2019-08-01T23:25:08","v":407,"s":"P"},{"t":"2019-08-01T23:25:43","v":411,"s":"P"},{"t":"2019-08-01T23:26:14","v":404,"s":"P"},{"t":"2019-08-01T23:26:32","v":411,"s":"P"},{"t":"2019-08-01T23:27:16","v":411,"s":"P"},{"t":"2019-08-01T23:27:20","v":404,"s":"P"},{"t":"2019-08-01T23:29:14","v":404,"s":"P"}],
"p33":[{"t":"2019-08-04T03:50","v":108,"s":"P"},{"t":"2019-08-04T04:29","v":109,"s":"P"},
{"t":"2019-08-02T10:40","v":0,"s":"H"},{"t":"2019-08-02T10:41","v":120,"s":"H"},{"t":"2019-08-02T10:56","v":120,"s":"H"},{"t":"2019-08-02T11:09","v":94,"s":"H"},{"t":"2019-08-02T11:39","v":94,"s":"H"},{"t":"2019-08-02T11:49","v":258,"s":"H"},{"t":"2019-08-02T11:58","v":94,"s":"H"},{"t":"2019-08-02T14:05","v":87,"s":"H"},{"t":"2019-08-02T14:21","v":229,"s":"H"},{"t":"2019-08-02T14:35","v":90,"s":"H"},{"t":"2019-08-02T15:34","v":90,"s":"H"},{"t":"2019-08-02T15:39","v":0,"s":"H"},{"t":"2019-08-02T15:49","v":258,"s":"H"},{"t":"2019-08-02T15:59","v":90,"s":"H"},{"t":"2019-08-02T16:32","v":90,"s":"H"},{"t":"2019-08-02T16:42","v":258,"s":"H"},{"t":"2019-08-02T16:52","v":90,"s":"H"},{"t":"2019-08-02T19:00","v":94,"s":"H"},{"t":"2019-08-02T19:11","v":320,"s":"H"},{"t":"2019-08-02T19:23","v":650,"s":"H"},{"t":"2019-08-02T19:42","v":300,"s":"H"},{"t":"2019-08-02T19:58","v":94,"s":"H"},{"t":"2019-08-02T20:33","v":94,"s":"H"},{"t":"2019-08-02T20:37","v":0,"s":"H"},{"t":"2019-08-02T20:47","v":94,"s":"H"},{"t":"2019-08-02T21:00","v":105,"s":"H"},{"t":"2019-08-02T21:12","v":650,"s":"H"},{"t":"2019-08-02T21:26","v":94,"s":"H"},{"t":"2019-08-02T22:34","v":94,"s":"H"},{"t":"2019-08-02T22:48","v":650,"s":"H"},{"t":"2019-08-02T23:04","v":265,"s":"H"},{"t":"2019-08-02T23:17","v":112,"s":"H"},{"t":"2019-08-03T01:30","v":112,"s":"H"},{"t":"2019-08-03T01:40","v":0,"s":"H"},{"t":"2019-08-03T01:50","v":112,"s":"H"},{"t":"2019-08-03T02:00","v":260,"s":"H"},{"t":"2019-08-03T02:06","v":650,"s":"H"},{"t":"2019-08-03T02:33","v":650,"s":"H"},{"t":"2019-08-03T02:45","v":258,"s":"H"},{"t":"2019-08-03T03:04","v":149,"s":"H"},{"t":"2019-08-03T05:25","v":149,"s":"H"},{"t":"2019-08-03T05:39","v":650,"s":"H"},{"t":"2019-08-03T05:55","v":203,"s":"H"},{"t":"2019-08-03T06:04","v":156,"s":"H"},{"t":"2019-08-03T06:38","v":149,"s":"H"},{"t":"2019-08-03T06:41","v":0,"s":"H"},{"t":"2019-08-03T06:44","v":141,"s":"H"},{"t":"2019-08-03T09:20","v":130,"s":"H"},{"t":"2019-08-03T09:40","v":367,"s":"H"},{"t":"2019-08-03T09:53","v":141,"s":"H"},{"t":"2019-08-03T11:37","v":105,"s":"H"},{"t":"2019-08-03T11:41","v":0,"s":"H"},{"t":"2019-08-03T11:57","v":105,"s":"H"},{"t":"2019-08-03T13:44","v":105,"s":"H"},{"t":"2019-08-03T13:54","v":650,"s":"H"},{"t":"2019-08-03T14:23","v":650,"s":"H"},{"t":"2019-08-03T14:43","v":130,"s":"H"},{"t":"2019-08-03T16:37","v":105,"s":"H"},{"t":"2019-08-03T16:40","v":0,"s":"H"},{"t":"2019-08-03T16:46","v":101,"s":"H"},{"t":"2019-08-03T17:39","v":101,"s":"H"},{"t":"2019-08-03T17:55","v":650,"s":"H"},{"t":"2019-08-03T18:08","v":112,"s":"H"},{"t":"2019-08-03T19:07","v":258,"s":"H"},{"t":"2019-08-03T19:21","v":385,"s":"H"},{"t":"2019-08-03T19:31","v":112,"s":"H"},{"t":"2019-08-03T21:34","v":105,"s":"H"},{"t":"2019-08-03T21:40","v":0,"s":"H"},{"t":"2019-08-03T21:48","v":105,"s":"H"},{"t":"2019-08-03T22:52","v":105,"s":"H"},{"t":"2019-08-03T23:02","v":650,"s":"H"},{"t":"2019-08-03T23:14","v":190,"s":"H"},{"t":"2019-08-03T23:32","v":115,"s":"H"},{"t":"2019-08-04T02:37","v":112,"s":"H"},{"t":"2019-08-04T02:41","v":0,"s":"H"},{"t":"2019-08-04T02:57","v":112,"s":"H"},{"t":"2019-08-04T04:10","v":100,"s":"H"},
{"t":"2019-08-02T10:41","v":135,"s":"A"},{"t":"2019-08-02T10:56","v":135,"s":"A"},{"t":"2019-08-02T11:09","v":109,"s":"A"},{"t":"2019-08-02T11:39","v":109,"s":"A"},{"t":"2019-08-02T11:49","v":273,"s":"A"},{"t":"2019-08-02T11:58","v":109,"s":"A"},{"t":"2019-08-02T14:05","v":102,"s":"A"},{"t":"2019-08-02T14:21","v":244,"s":"A"},{"t":"2019-08-02T14:35","v":105,"s":"A"},{"t":"2019-08-02T15:34","v":105,"s":"A"},{"t":"2019-08-02T15:39","v":0,"s":"A"},{"t":"2019-08-02T15:49","v":273,"s":"A"},{"t":"2019-08-02T15:59","v":105,"s":"A"},{"t":"2019-08-02T16:32","v":105,"s":"A"},{"t":"2019-08-02T16:42","v":273,"s":"A"},{"t":"2019-08-02T16:52","v":105,"s":"A"},{"t":"2019-08-02T19:00","v":109,"s":"A"},{"t":"2019-08-02T19:11","v":300,"s":"A"},{"t":"2019-08-02T19:23","v":500,"s":"A"},{"t":"2019-08-02T19:42","v":316,"s":"A"},{"t":"2019-08-02T19:58","v":109,"s":"A"},{"t":"2019-08-02T20:33","v":109,"s":"A"},{"t":"2019-08-02T20:37","v":0,"s":"A"},{"t":"2019-08-02T20:47","v":109,"s":"A"},{"t":"2019-08-02T21:00","v":120,"s":"A"},{"t":"2019-08-02T21:12","v":500,"s":"A"},{"t":"2019-08-02T21:26","v":109,"s":"A"},{"t":"2019-08-02T22:34","v":109,"s":"A"},{"t":"2019-08-02T22:48","v":500,"s":"A"},{"t":"2019-08-02T23:04","v":280,"s":"A"},{"t":"2019-08-02T23:17","v":127,"s":"A"},{"t":"2019-08-03T01:30","v":127,"s":"A"},{"t":"2019-08-03T01:40","v":0,"s":"A"},{"t":"2019-08-03T01:50","v":127,"s":"A"},{"t":"2019-08-03T02:00","v":250,"s":"A"},{"t":"2019-08-03T02:06","v":500,"s":"A"},{"t":"2019-08-03T02:33","v":500,"s":"A"},{"t":"2019-08-03T02:45","v":273,"s":"A"},{"t":"2019-08-03T03:04","v":164,"s":"A"},{"t":"2019-08-03T05:25","v":164,"s":"A"},{"t":"2019-08-03T05:39","v":500,"s":"A"},{"t":"2019-08-03T05:55","v":218,"s":"A"},{"t":"2019-08-03T06:04","v":171,"s":"A"},{"t":"2019-08-03T06:38","v":164,"s":"A"},{"t":"2019-08-03T06:41","v":0,"s":"A"},{"t":"2019-08-03T06:44","v":156,"s":"A"},{"t":"2019-08-03T09:20","v":145,"s":"A"},{"t":"2019-08-03T09:40","v":382,"s":"A"},{"t":"2019-08-03T09:53","v":156,"s":"A"},{"t":"2019-08-03T11:37","v":120,"s":"A"},{"t":"2019-08-03T11:41","v":0,"s":"A"},{"t":"2019-08-03T11:57","v":120,"s":"A"},{"t":"2019-08-03T13:44","v":120,"s":"A"},{"t":"2019-08-03T13:54","v":500,"s":"A"},{"t":"2019-08-03T14:23","v":500,"s":"A"},{"t":"2019-08-03T14:43","v":145,"s":"A"},{"t":"2019-08-03T16:37","v":120,"s":"A"},{"t":"2019-08-03T16:40","v":0,"s":"A"},{"t":"2019-08-03T16:46","v":116,"s":"A"},{"t":"2019-08-03T17:39","v":116,"s":"A"},{"t":"2019-08-03T17:55","v":500,"s":"A"},{"t":"2019-08-03T18:08","v":127,"s":"A"},{"t":"2019-08-03T19:07","v":273,"s":"A"},{"t":"2019-08-03T19:21","v":400,"s":"A"},{"t":"2019-08-03T19:31","v":127,"s":"A"},{"t":"2019-08-03T21:34","v":120,"s":"A"},{"t":"2019-08-03T21:40","v":0,"s":"A"},{"t":"2019-08-03T21:48","v":120,"s":"A"},{"t":"2019-08-03T22:52","v":120,"s":"A"},{"t":"2019-08-03T23:02","v":500,"s":"A"},{"t":"2019-08-03T23:14","v":200,"s":"A"},{"t":"2019-08-03T23:32","v":130,"s":"A"},{"t":"2019-08-04T02:37","v":127,"s":"A"},{"t":"2019-08-04T02:41","v":0,"s":"A"},{"t":"2019-08-04T02:57","v":127,"s":"A"},{"t":"2019-08-04T04:10","v":115,"s":"A"}],
"p34":[{"t":"2019-08-07T23:50","v":100,"s":"P"},{"t":"2019-08-08T00:07","v":100,"s":"P"},
{"t":"2019-08-06T14:45","v":0,"s":"H"},{"t":"2019-08-06T14:46","v":80,"s":"H"},{"t":"2019-08-06T15:08","v":87,"s":"H"},{"t":"2019-08-06T15:32","v":80,"s":"H"},{"t":"2019-08-06T15:37","v":235,"s":"H"},{"t":"2019-08-06T15:43","v":80,"s":"H"},{"t":"2019-08-06T18:16","v":80,"s":"H"},{"t":"2019-08-06T18:24","v":320,"s":"H"},{"t":"2019-08-06T18:28","v":650,"s":"H"},{"t":"2019-08-06T18:44","v":650,"s":"H"},{"t":"2019-08-06T18:55","v":227,"s":"H"},{"t":"2019-08-06T19:03","v":98,"s":"H"},{"t":"2019-08-06T19:37","v":98,"s":"H"},{"t":"2019-08-06T19:40","v":10,"s":"H"},{"t":"2019-08-06T19:46","v":98,"s":"H"},{"t":"2019-08-06T21:39","v":98,"s":"H"},{"t":"2019-08-06T21:47","v":320,"s":"H"},{"t":"2019-08-06T21:51","v":650,"s":"H"},{"t":"2019-08-06T22:02","v":264,"s":"H"},{"t":"2019-08-06T22:18","v":98,"s":"H"},{"t":"2019-08-06T23:25","v":117,"s":"H"},{"t":"2019-08-06T23:31","v":650,"s":"H"},{"t":"2019-08-06T23:44","v":301,"s":"H"},{"t":"2019-08-07T00:00","v":117,"s":"H"},{"t":"2019-08-07T00:39","v":117,"s":"H"},{"t":"2019-08-07T00:42","v":10,"s":"H"},{"t":"2019-08-07T00:49","v":320,"s":"H"},{"t":"2019-08-07T00:59","v":650,"s":"H"},{"t":"2019-08-07T01:30","v":650,"s":"H"},{"t":"2019-08-07T01:41","v":264,"s":"H"},{"t":"2019-08-07T01:52","v":301,"s":"H"},{"t":"2019-08-07T02:08","v":117,"s":"H"},{"t":"2019-08-07T03:35","v":124,"s":"H"},{"t":"2019-08-07T03:41","v":337,"s":"H"},{"t":"2019-08-07T03:54","v":117,"s":"H"},{"t":"2019-08-07T05:27","v":117,"s":"H"},{"t":"2019-08-07T05:35","v":650,"s":"H"},{"t":"2019-08-07T05:40","v":0,"s":"H"},{"t":"2019-08-07T05:46","v":650,"s":"H"},{"t":"2019-08-07T05:56","v":264,"s":"H"},{"t":"2019-08-07T06:07","v":110,"s":"H"},{"t":"2019-08-07T08:19","v":110,"s":"H"},{"t":"2019-08-07T08:27","v":320,"s":"H"},{"t":"2019-08-07T08:32","v":650,"s":"H"},{"t":"2019-08-07T08:58","v":650,"s":"H"},{"t":"2019-08-07T09:06","v":301,"s":"H"},{"t":"2019-08-07T09:22","v":124,"s":"H"},{"t":"2019-08-07T10:37","v":117,"s":"H"},{"t":"2019-08-07T10:40","v":10,"s":"H"},{"t":"2019-08-07T10:48","v":117,"s":"H"},{"t":"2019-08-07T13:47","v":117,"s":"H"},{"t":"2019-08-07T13:55","v":320,"s":"H"},{"t":"2019-08-07T14:03","v":650,"s":"H"},{"t":"2019-08-07T14:11","v":288,"s":"H"},{"t":"2019-08-07T14:19","v":117,"s":"H"},{"t":"2019-08-07T15:37","v":98,"s":"H"},{"t":"2019-08-07T15:40","v":10,"s":"H"},{"t":"2019-08-07T15:49","v":320,"s":"H"},{"t":"2019-08-07T16:00","v":650,"s":"H"},{"t":"2019-08-07T16:16","v":264,"s":"H"},{"t":"2019-08-07T16:27","v":117,"s":"H"},{"t":"2019-08-07T17:18","v":117,"s":"H"},{"t":"2019-08-07T17:29","v":650,"s":"H"},{"t":"2019-08-07T17:39","v":264,"s":"H"},{"t":"2019-08-07T17:50","v":117,"s":"H"},{"t":"2019-08-07T18:47","v":117,"s":"H"},{"t":"2019-08-07T18:57","v":308,"s":"H"},{"t":"2019-08-07T19:08","v":117,"s":"H"},{"t":"2019-08-07T19:47","v":117,"s":"H"},{"t":"2019-08-07T19:59","v":650,"s":"H"},{"t":"2019-08-07T20:10","v":301,"s":"H"},{"t":"2019-08-07T20:18","v":117,"s":"H"},{"t":"2019-08-07T20:33","v":10,"s":"H"},{"t":"2019-08-07T20:41","v":117,"s":"H"},{"t":"2019-08-07T21:28","v":117,"s":"H"},{"t":"2019-08-07T21:39","v":650,"s":"H"},{"t":"2019-08-07T21:52","v":301,"s":"H"},{"t":"2019-08-07T22:04","v":117,"s":"H"},{"t":"2019-08-07T22:54","v":117,"s":"H"},{"t":"2019-08-07T22:59","v":246,"s":"H"},{"t":"2019-08-07T23:07","v":117,"s":"H"},{"t":"2019-08-08T00:07","v":98,"s":"H"},
{"t":"2019-08-06T14:46","v":92,"s":"A"},{"t":"2019-08-06T15:08","v":99,"s":"A"},{"t":"2019-08-06T15:32","v":92,"s":"A"},{"t":"2019-08-06T15:37","v":247,"s":"A"},{"t":"2019-08-06T15:43","v":92,"s":"A"},{"t":"2019-08-06T18:16","v":92,"s":"A"},{"t":"2019-08-06T18:24","v":300,"s":"A"},{"t":"2019-08-06T18:28","v":500,"s":"A"},{"t":"2019-08-06T18:44","v":500,"s":"A"},{"t":"2019-08-06T18:55","v":239,"s":"A"},{"t":"2019-08-06T19:03","v":110,"s":"A"},{"t":"2019-08-06T19:37","v":110,"s":"A"},{"t":"2019-08-06T19:40","v":20,"s":"A"},{"t":"2019-08-06T19:46","v":110,"s":"A"},{"t":"2019-08-06T21:39","v":110,"s":"A"},{"t":"2019-08-06T21:47","v":300,"s":"A"},{"t":"2019-08-06T21:51","v":500,"s":"A"},{"t":"2019-08-06T22:02","v":276,"s":"A"},{"t":"2019-08-06T22:18","v":110,"s":"A"},{"t":"2019-08-06T23:25","v":129,"s":"A"},{"t":"2019-08-06T23:31","v":500,"s":"A"},{"t":"2019-08-06T23:44","v":313,"s":"A"},{"t":"2019-08-07T00:00","v":129,"s":"A"},{"t":"2019-08-07T00:39","v":129,"s":"A"},{"t":"2019-08-07T00:42","v":20,"s":"A"},{"t":"2019-08-07T00:49","v":300,"s":"A"},{"t":"2019-08-07T00:59","v":500,"s":"A"},{"t":"2019-08-07T01:30","v":500,"s":"A"},{"t":"2019-08-07T01:41","v":276,"s":"A"},{"t":"2019-08-07T01:52","v":313,"s":"A"},{"t":"2019-08-07T02:08","v":129,"s":"A"},{"t":"2019-08-07T03:35","v":136,"s":"A"},{"t":"2019-08-07T03:41","v":349,"s":"A"},{"t":"2019-08-07T03:54","v":129,"s":"A"},{"t":"2019-08-07T05:27","v":129,"s":"A"},{"t":"2019-08-07T05:35","v":500,"s":"A"},{"t":"2019-08-07T05:40","v":0,"s":"A"},{"t":"2019-08-07T05:46","v":500,"s":"A"},{"t":"2019-08-07T05:56","v":276,"s":"A"},{"t":"2019-08-07T06:07","v":122,"s":"A"},{"t":"2019-08-07T08:19","v":122,"s":"A"},{"t":"2019-08-07T08:27","v":300,"s":"A"},{"t":"2019-08-07T08:32","v":500,"s":"A"},{"t":"2019-08-07T08:58","v":500,"s":"A"},{"t":"2019-08-07T09:06","v":313,"s":"A"},{"t":"2019-08-07T09:22","v":136,"s":"A"},{"t":"2019-08-07T10:37","v":129,"s":"A"},{"t":"2019-08-07T10:40","v":20,"s":"A"},{"t":"2019-08-07T10:48","v":129,"s":"A"},{"t":"2019-08-07T13:47","v":129,"s":"A"},{"t":"2019-08-07T13:55","v":300,"s":"A"},{"t":"2019-08-07T14:03","v":500,"s":"A"},{"t":"2019-08-07T14:11","v":300,"s":"A"},{"t":"2019-08-07T14:19","v":129,"s":"A"},{"t":"2019-08-07T15:37","v":110,"s":"A"},{"t":"2019-08-07T15:40","v":20,"s":"A"},{"t":"2019-08-07T15:49","v":300,"s":"A"},{"t":"2019-08-07T16:00","v":500,"s":"A"},{"t":"2019-08-07T16:16","v":276,"s":"A"},{"t":"2019-08-07T16:27","v":129,"s":"A"},{"t":"2019-08-07T17:18","v":129,"s":"A"},{"t":"2019-08-07T17:29","v":500,"s":"A"},{"t":"2019-08-07T17:39","v":276,"s":"A"},{"t":"2019-08-07T17:50","v":129,"s":"A"},{"t":"2019-08-07T18:47","v":129,"s":"A"},{"t":"2019-08-07T18:57","v":320,"s":"A"},{"t":"2019-08-07T19:08","v":129,"s":"A"},{"t":"2019-08-07T19:47","v":129,"s":"A"},{"t":"2019-08-07T19:59","v":500,"s":"A"},{"t":"2019-08-07T20:10","v":313,"s":"A"},{"t":"2019-08-07T20:18","v":129,"s":"A"},{"t":"2019-08-07T20:33","v":20,"s":"A"},{"t":"2019-08-07T20:41","v":129,"s":"A"},{"t":"2019-08-07T21:28","v":129,"s":"A"},{"t":"2019-08-07T21:39","v":500,"s":"A"},{"t":"2019-08-07T21:52","v":313,"s":"A"},{"t":"2019-08-07T22:04","v":129,"s":"A"},{"t":"2019-08-07T22:54","v":129,"s":"A"},{"t":"2019-08-07T22:59","v":258,"s":"A"},{"t":"2019-08-07T23:07","v":129,"s":"A"},{"t":"2019-08-08T00:07","v":110,"s":"A"}],
"p35":[{"t":"2019-08-16T18:20","v":190,"s":"P"},{"t":"2019-08-16T18:40","v":205,"s":"P"},
{"t":"2019-08-15T10:27","v":0,"s":"H"},{"t":"2019-08-15T10:28","v":132,"s":"H"},{"t":"2019-08-15T11:09","v":140,"s":"H"},{"t":"2019-08-15T11:14","v":207,"s":"H"},{"t":"2019-08-15T11:20","v":140,"s":"H"},{"t":"2019-08-15T12:32","v":140,"s":"H"},{"t":"2019-08-15T12:39","v":240,"s":"H"},{"t":"2019-08-15T12:48","v":650,"s":"H"},{"t":"2019-08-15T12:54","v":650,"s":"H"},{"t":"2019-08-15T12:59","v":319,"s":"H"},{"t":"2019-08-15T13:07","v":219,"s":"H"},{"t":"2019-08-15T13:15","v":157,"s":"H"},{"t":"2019-08-15T13:54","v":157,"s":"H"},{"t":"2019-08-15T14:05","v":650,"s":"H"},{"t":"2019-08-15T14:13","v":319,"s":"H"},{"t":"2019-08-15T14:25","v":169,"s":"H"},{"t":"2019-08-15T14:57","v":157,"s":"H"},{"t":"2019-08-15T15:13","v":650,"s":"H"},{"t":"2019-08-15T15:25","v":294,"s":"H"},{"t":"2019-08-15T15:28","v":0,"s":"H"},{"t":"2019-08-15T15:33","v":282,"s":"H"},{"t":"2019-08-15T15:44","v":140,"s":"H"},{"t":"2019-08-15T16:31","v":140,"s":"H"},{"t":"2019-08-15T16:44","v":650,"s":"H"},{"t":"2019-08-15T16:55","v":369,"s":"H"},{"t":"2019-08-15T17:05","v":140,"s":"H"},{"t":"2019-08-15T19:00","v":140,"s":"H"},{"t":"2019-08-15T19:11","v":650,"s":"H"},{"t":"2019-08-15T19:24","v":319,"s":"H"},{"t":"2019-08-15T19:31","v":140,"s":"H"},{"t":"2019-08-15T20:26","v":132,"s":"H"},{"t":"2019-08-15T20:28","v":0,"s":"H"},{"t":"2019-08-15T20:34","v":132,"s":"H"},{"t":"2019-08-15T21:21","v":140,"s":"H"},{"t":"2019-08-15T21:29","v":650,"s":"H"},{"t":"2019-08-15T21:37","v":344,"s":"H"},{"t":"2019-08-15T21:45","v":140,"s":"H"},{"t":"2019-08-15T23:35","v":125,"s":"H"},{"t":"2019-08-16T00:30","v":125,"s":"H"},{"t":"2019-08-16T00:40","v":650,"s":"H"},{"t":"2019-08-16T01:09","v":650,"s":"H"},{"t":"2019-08-16T01:17","v":332,"s":"H"},{"t":"2019-08-16T01:28","v":307,"s":"H"},{"t":"2019-08-16T01:29","v":0,"s":"H"},{"t":"2019-08-16T01:37","v":307,"s":"H"},{"t":"2019-08-16T01:43","v":132,"s":"H"},{"t":"2019-08-16T03:46","v":132,"s":"H"},{"t":"2019-08-16T03:53","v":650,"s":"H"},{"t":"2019-08-16T04:05","v":319,"s":"H"},{"t":"2019-08-16T04:17","v":125,"s":"H"},{"t":"2019-08-16T05:43","v":144,"s":"H"},{"t":"2019-08-16T06:23","v":150,"s":"H"},{"t":"2019-08-16T06:26","v":0,"s":"H"},{"t":"2019-08-16T06:35","v":650,"s":"H"},{"t":"2019-08-16T06:46","v":319,"s":"H"},{"t":"2019-08-16T06:54","v":157,"s":"H"},{"t":"2019-08-16T08:00","v":157,"s":"H"},{"t":"2019-08-16T08:09","v":650,"s":"H"},{"t":"2019-08-16T08:36","v":650,"s":"H"},{"t":"2019-08-16T08:44","v":357,"s":"H"},{"t":"2019-08-16T09:00","v":319,"s":"H"},{"t":"2019-08-16T09:07","v":157,"s":"H"},{"t":"2019-08-16T11:13","v":150,"s":"H"},{"t":"2019-08-16T11:21","v":294,"s":"H"},{"t":"2019-08-16T11:24","v":0,"s":"H"},{"t":"2019-08-16T11:32","v":294,"s":"H"},{"t":"2019-08-16T11:44","v":150,"s":"H"},{"t":"2019-08-16T12:20","v":150,"s":"H"},{"t":"2019-08-16T12:27","v":650,"s":"H"},{"t":"2019-08-16T12:39","v":319,"s":"H"},{"t":"2019-08-16T12:55","v":150,"s":"H"},{"t":"2019-08-16T13:42","v":150,"s":"H"},{"t":"2019-08-16T13:58","v":650,"s":"H"},{"t":"2019-08-16T14:10","v":344,"s":"H"},{"t":"2019-08-16T14:21","v":150,"s":"H"},{"t":"2019-08-16T16:27","v":150,"s":"H"},{"t":"2019-08-16T16:28","v":0,"s":"H"},{"t":"2019-08-16T16:34","v":150,"s":"H"},{"t":"2019-08-16T17:37","v":144,"s":"H"},{"t":"2019-08-16T17:47","v":282,"s":"H"},{"t":"2019-08-16T17:56","v":182,"s":"H"},{"t":"2019-08-16T18:24","v":182,"s":"H"},{"t":"2019-08-16T18:35","v":199,"s":"H"},
{"t":"2019-08-15T10:28","v":144,"s":"A"},{"t":"2019-08-15T11:09","v":152,"s":"A"},{"t":"2019-08-15T11:14","v":219,"s":"A"},{"t":"2019-08-15T11:20","v":152,"s":"A"},{"t":"2019-08-15T12:32","v":152,"s":"A"},{"t":"2019-08-15T12:39","v":231,"s":"A"},{"t":"2019-08-15T12:48","v":500,"s":"A"},{"t":"2019-08-15T12:54","v":500,"s":"A"},{"t":"2019-08-15T12:59","v":331,"s":"A"},{"t":"2019-08-15T13:07","v":231,"s":"A"},{"t":"2019-08-15T13:15","v":169,"s":"A"},{"t":"2019-08-15T13:54","v":169,"s":"A"},{"t":"2019-08-15T14:05","v":500,"s":"A"},{"t":"2019-08-15T14:13","v":331,"s":"A"},{"t":"2019-08-15T14:25","v":181,"s":"A"},{"t":"2019-08-15T14:57","v":169,"s":"A"},{"t":"2019-08-15T15:13","v":500,"s":"A"},{"t":"2019-08-15T15:25","v":306,"s":"A"},{"t":"2019-08-15T15:28","v":0,"s":"A"},{"t":"2019-08-15T15:33","v":294,"s":"A"},{"t":"2019-08-15T15:44","v":152,"s":"A"},{"t":"2019-08-15T16:31","v":152,"s":"A"},{"t":"2019-08-15T16:44","v":500,"s":"A"},{"t":"2019-08-15T16:55","v":381,"s":"A"},{"t":"2019-08-15T17:05","v":152,"s":"A"},{"t":"2019-08-15T19:00","v":152,"s":"A"},{"t":"2019-08-15T19:11","v":500,"s":"A"},{"t":"2019-08-15T19:24","v":331,"s":"A"},{"t":"2019-08-15T19:31","v":152,"s":"A"},{"t":"2019-08-15T20:26","v":144,"s":"A"},{"t":"2019-08-15T20:28","v":0,"s":"A"},{"t":"2019-08-15T20:34","v":144,"s":"A"},{"t":"2019-08-15T21:21","v":152,"s":"A"},{"t":"2019-08-15T21:29","v":500,"s":"A"},{"t":"2019-08-15T21:37","v":356,"s":"A"},{"t":"2019-08-15T21:45","v":152,"s":"A"},{"t":"2019-08-15T23:35","v":137,"s":"A"},{"t":"2019-08-16T00:30","v":137,"s":"A"},{"t":"2019-08-16T00:40","v":500,"s":"A"},{"t":"2019-08-16T01:09","v":500,"s":"A"},{"t":"2019-08-16T01:17","v":344,"s":"A"},{"t":"2019-08-16T01:28","v":319,"s":"A"},{"t":"2019-08-16T01:29","v":0,"s":"A"},{"t":"2019-08-16T01:37","v":319,"s":"A"},{"t":"2019-08-16T01:43","v":144,"s":"A"},{"t":"2019-08-16T03:46","v":144,"s":"A"},{"t":"2019-08-16T03:53","v":500,"s":"A"},{"t":"2019-08-16T04:05","v":331,"s":"A"},{"t":"2019-08-16T04:17","v":137,"s":"A"},{"t":"2019-08-16T05:43","v":156,"s":"A"},{"t":"2019-08-16T06:23","v":162,"s":"A"},{"t":"2019-08-16T06:26","v":0,"s":"A"},{"t":"2019-08-16T06:35","v":500,"s":"A"},{"t":"2019-08-16T06:46","v":331,"s":"A"},{"t":"2019-08-16T06:54","v":169,"s":"A"},{"t":"2019-08-16T08:00","v":169,"s":"A"},{"t":"2019-08-16T08:09","v":500,"s":"A"},{"t":"2019-08-16T08:36","v":500,"s":"A"},{"t":"2019-08-16T08:44","v":369,"s":"A"},{"t":"2019-08-16T09:00","v":331,"s":"A"},{"t":"2019-08-16T09:07","v":169,"s":"A"},{"t":"2019-08-16T11:13","v":162,"s":"A"},{"t":"2019-08-16T11:21","v":306,"s":"A"},{"t":"2019-08-16T11:24","v":0,"s":"A"},{"t":"2019-08-16T11:32","v":306,"s":"A"},{"t":"2019-08-16T11:44","v":162,"s":"A"},{"t":"2019-08-16T12:20","v":162,"s":"A"},{"t":"2019-08-16T12:27","v":500,"s":"A"},{"t":"2019-08-16T12:39","v":331,"s":"A"},{"t":"2019-08-16T12:55","v":162,"s":"A"},{"t":"2019-08-16T13:42","v":162,"s":"A"},{"t":"2019-08-16T13:58","v":500,"s":"A"},{"t":"2019-08-16T14:10","v":356,"s":"A"},{"t":"2019-08-16T14:21","v":162,"s":"A"},{"t":"2019-08-16T16:27","v":162,"s":"A"},{"t":"2019-08-16T16:28","v":0,"s":"A"},{"t":"2019-08-16T16:34","v":162,"s":"A"},{"t":"2019-08-16T17:37","v":156,"s":"A"},{"t":"2019-08-16T17:47","v":294,"s":"A"},{"t":"2019-08-16T17:56","v":194,"s":"A"},{"t":"2019-08-16T18:24","v":194,"s":"A"},{"t":"2019-08-16T18:35","v":211,"s":"A"}],
"p37":[{"t":"2019-08-20T18:30","v":185,"s":"P"},{"t":"2019-08-20T18:40","v":650,"s":"P"},{"t":"2019-08-20T18:53","v":650,"s":"P"},{"t":"2019-08-20T19:03","v":185,"s":"P"},{"t":"2019-08-20T19:07","v":184,"s":"P"},
{"t":"2019-08-20T10:05","v":0,"s":"H"},{"t":"2019-08-20T10:06","v":167,"s":"H"},{"t":"2019-08-20T10:10","v":149,"s":"H"},{"t":"2019-08-20T10:39","v":167,"s":"H"},{"t":"2019-08-20T10:46","v":352,"s":"H"},{"t":"2019-08-20T10:49","v":278,"s":"H"},{"t":"2019-08-20T10:54","v":167,"s":"H"},{"t":"2019-08-20T11:52","v":167,"s":"H"},{"t":"2019-08-20T12:58","v":149,"s":"H"},{"t":"2019-08-20T13:06","v":167,"s":"H"},{"t":"2019-08-20T13:11","v":650,"s":"H"},{"t":"2019-08-20T13:19","v":650,"s":"H"},{"t":"2019-08-20T13:24","v":303,"s":"H"},{"t":"2019-08-20T13:29","v":167,"s":"H"},{"t":"2019-08-20T13:34","v":149,"s":"H"},{"t":"2019-08-20T14:48","v":149,"s":"H"},{"t":"2019-08-20T14:54","v":650,"s":"H"},{"t":"2019-08-20T15:00","v":650,"s":"H"},{"t":"2019-08-20T15:03","v":328,"s":"H"},{"t":"2019-08-20T15:06","v":0,"s":"H"},{"t":"2019-08-20T15:09","v":290,"s":"H"},{"t":"2019-08-20T15:13","v":303,"s":"H"},{"t":"2019-08-20T15:17","v":167,"s":"H"},{"t":"2019-08-20T15:52","v":154,"s":"H"},{"t":"2019-08-20T15:57","v":650,"s":"H"},{"t":"2019-08-20T16:04","v":650,"s":"H"},{"t":"2019-08-20T16:09","v":328,"s":"H"},{"t":"2019-08-20T16:15","v":167,"s":"H"},{"t":"2019-08-20T18:01","v":167,"s":"H"},{"t":"2019-08-20T18:11","v":179,"s":"H"},{"t":"2019-08-20T18:30","v":179,"s":"H"},{"t":"2019-08-20T18:34","v":167,"s":"H"},{"t":"2019-08-20T19:07","v":172,"s":"H"},{"t":"2019-08-20T20:05","v":159,"s":"H"},{"t":"2019-08-20T20:07","v":0,"s":"H"},{"t":"2019-08-20T20:11","v":167,"s":"H"},{"t":"2019-08-20T20:52","v":179,"s":"H"},{"t":"2019-08-20T20:55","v":650,"s":"H"},{"t":"2019-08-20T21:07","v":650,"s":"H"},{"t":"2019-08-20T21:12","v":377,"s":"H"},{"t":"2019-08-20T21:18","v":179,"s":"H"},{"t":"2019-08-20T22:57","v":172,"s":"H"},{"t":"2019-08-20T23:10","v":179,"s":"H"},{"t":"2019-08-20T23:24","v":196,"s":"H"},{"t":"2019-08-20T23:37","v":191,"s":"H"},
{"t":"2019-08-20T10:06","v":179,"s":"A"},{"t":"2019-08-20T10:10","v":161,"s":"A"},{"t":"2019-08-20T10:39","v":179,"s":"A"},{"t":"2019-08-20T10:46","v":364,"s":"A"},{"t":"2019-08-20T10:49","v":290,"s":"A"},{"t":"2019-08-20T10:54","v":179,"s":"A"},{"t":"2019-08-20T11:52","v":179,"s":"A"},{"t":"2019-08-20T12:58","v":161,"s":"A"},{"t":"2019-08-20T13:06","v":179,"s":"A"},{"t":"2019-08-20T13:11","v":493,"s":"A"},{"t":"2019-08-20T13:19","v":493,"s":"A"},{"t":"2019-08-20T13:24","v":315,"s":"A"},{"t":"2019-08-20T13:29","v":179,"s":"A"},{"t":"2019-08-20T13:34","v":161,"s":"A"},{"t":"2019-08-20T14:48","v":161,"s":"A"},{"t":"2019-08-20T14:54","v":493,"s":"A"},{"t":"2019-08-20T15:00","v":493,"s":"A"},{"t":"2019-08-20T15:03","v":340,"s":"A"},{"t":"2019-08-20T15:06","v":0,"s":"A"},{"t":"2019-08-20T15:09","v":302,"s":"A"},{"t":"2019-08-20T15:13","v":315,"s":"A"},{"t":"2019-08-20T15:17","v":179,"s":"A"},{"t":"2019-08-20T15:52","v":166,"s":"A"},{"t":"2019-08-20T15:57","v":493,"s":"A"},{"t":"2019-08-20T16:04","v":493,"s":"A"},{"t":"2019-08-20T16:09","v":340,"s":"A"},{"t":"2019-08-20T16:15","v":179,"s":"A"},{"t":"2019-08-20T18:01","v":179,"s":"A"},{"t":"2019-08-20T18:11","v":191,"s":"A"},{"t":"2019-08-20T18:30","v":191,"s":"A"},{"t":"2019-08-20T18:34","v":179,"s":"A"},{"t":"2019-08-20T19:07","v":184,"s":"A"},{"t":"2019-08-20T20:05","v":171,"s":"A"},{"t":"2019-08-20T20:07","v":0,"s":"A"},{"t":"2019-08-20T20:11","v":179,"s":"A"},{"t":"2019-08-20T20:52","v":191,"s":"A"},{"t":"2019-08-20T20:55","v":493,"s":"A"},{"t":"2019-08-20T21:07","v":493,"s":"A"},{"t":"2019-08-20T21:12","v":389,"s":"A"},{"t":"2019-08-20T21:18","v":191,"s":"A"},{"t":"2019-08-20T22:57","v":184,"s":"A"},{"t":"2019-08-20T23:10","v":191,"s":"A"},{"t":"2019-08-20T23:24","v":208,"s":"A"},{"t":"2019-08-20T23:37","v":203,"s":"A"}]
},
"vconcat":[
{"width":528,"height":82,"layer":[{"data":{"name":"p1"},"mark":{"type":"line","strokeWidth":1.1,"clip":true},"encoding":{"x":{"field":"t","type":"temporal","title":null,"scale":{"domain":[{"year":2019,"month":7,"date":4,"hours":18,"minutes":45,"seconds":34},{"year":2019,"month":7,"date":4,"hours":18,"minutes":54,"seconds":58}]},"axis":{"format":"%H:%M","values":[{"year":2019,"month":7,"date":4,"hours":18,"minutes":46},{"year":2019,"month":7,"date":4,"hours":18,"minutes":48},{"year":2019,"month":7,"date":4,"hours":18,"minutes":50},{"year":2019,"month":7,"date":4,"hours":18,"minutes":52},{"year":2019,"month":7,"date":4,"hours":18,"minutes":54}]}},"y":{"field":"v","type":"quantitative","title":null,"scale":{"domain":[-30,972.2],"nice":false,"zero":false},"axis":{"values":[0,200,400,600]}},"color":{"field":"s","type":"nominal","scale":{"domain":["A","H","P"],"range":["#E41A1C","#377EB8","#4DAF4A"]},"legend":{"title":"pCO2 record","orient":"none","legendX":553,"legendY":1974,"labelExpr":"datum.value == 'A' ? 'analog CTD' : datum.value == 'H' ? 'HydroC, drift corrected' : 'pre cleaning'"}},"detail":{"field":"g"}}},{"data":{"values":[{}]},"mark":{"type":"rect","fill":"#D9D9D9","stroke":"#333333","strokeWidth":1.2},"encoding":{"y":{"datum":630},"y2":{"datum":972.2}}},{"data":{"values":[{"n":"1"}]},"mark":{"type":"text","fontSize":14,"color":"#1A1A1A"},"encoding":{"y":{"datum":801.1},"text":{"field":"n"}}}]},
{"width":528,"height":82,"layer":[{"data":{"name":"p2"},"mark":{"type":"line","strokeWidth":1.1,"clip":true},"encoding":{"x":{"field":"t","type":"temporal","title":null,"scale":{"domain":[{"year":2019,"month":7,"date":5,"hours":17,"minutes":17,"seconds":24},{"year":2019,"month":7,"date":7,"hours":9,"minutes":6,"seconds":36}]},"axis":{"format":"%b %d %H:%M","values":[{"year":2019,"month":7,"date":6,"hours":0},{"year":2019,"month":7,"date":6,"hours":12},{"year":2019,"month":7,"date":7,"hours":0}]}},"y":{"field":"v","type":"quantitative","title":null,"scale":{"domain":[-30,972.2],"nice":false,"zero":false},"axis":{"values":[0,200,400,600]}},"color":{"field":"s","type":"nominal","scale":{"domain":["A","H","P"],"range":["#E41A1C","#377EB8","#4DAF4A"]},"legend":{"title":"pCO2 record","orient":"none","legendX":553,"legendY":1974,"labelExpr":"datum.value == 'A' ? 'analog CTD' : datum.value == 'H' ? 'HydroC, drift corrected' : 'pre cleaning'"}},"detail":{"field":"g"}}},{"data":{"values":[{}]},"mark":{"type":"rect","fill":"#D9D9D9","stroke":"#333333","strokeWidth":1.2},"encoding":{"y":{"datum":630},"y2":{"datum":972.2}}},{"data":{"values":[{"n":"2"}]},"mark":{"type":"text","fontSize":14,"color":"#1A1A1A"},"encoding":{"y":{"datum":801.1},"text":{"field":"n"}}}]},
{"width":528,"height":82,"layer":[{"data":{"name":"p3"},"mark":{"type":"line","strokeWidth":1.1,"clip":true},"encoding":{"x":{"field":"t","type":"temporal","title":null,"scale":{"domain":[{"year":2019,"month":7,"date":7,"hours":7,"minutes":31,"seconds":57},{"year":2019,"month":7,"date":7,"hours":8,"minutes":24,"seconds":59}]},"axis":{"format":"%H:%M","values":[{"year":2019,"month":7,"date":7,"hours":7,"minutes":40},{"year":2019,"month":7,"date":7,"hours":7,"minutes":50},{"year":2019,"month":7,"date":7,"hours":8,"minutes":0},{"year":2019,"month":7,"date":7,"hours":8,"minutes":10},{"year":2019,"month":7,"date":7,"hours":8,"minutes":20}]}},"y":{"field":"v","type":"quantitative","title":null,"scale":{"domain":[-30,972.2],"nice":false,"zero":false},"axis":{"values":[0,200,400,600]}},"color":{"field":"s","type":"nominal","scale":{"domain":["A","H","P"],"range":["#E41A1C","#377EB8","#4DAF4A"]},"legend":{"title":"pCO2 record","orient":"none","legendX":553,"legendY":1974,"labelExpr":"datum.value == 'A' ? 'analog CTD' : datum.value == 'H' ? 'HydroC, drift corrected' : 'pre cleaning'"}},"detail":{"field":"g"}}},{"data":{"values":[{}]},"mark":{"type":"rect","fill":"#D9D9D9","stroke":"#333333","strokeWidth":1.2},"encoding":{"y":{"datum":630},"y2":{"datum":972.2}}},{"data":{"values":[{"n":"3"}]},"mark":{"type":"text","fontSize":14,"color":"#1A1A1A"},"encoding":{"y":{"datum":801.1},"text":{"field":"n"}}}]},
{"width":528,"height":82,"layer":[{"data":{"name":"p4"},"mark":{"type":"line","strokeWidth":1.1,"clip":true},"encoding":{"x":{"field":"t","type":"temporal","title":null,"scale":{"domain":[{"year":2019,"month":7,"date":7,"hours":8,"minutes":30,"seconds":21},{"year":2019,"month":7,"date":7,"hours":8,"minutes":41,"seconds":19}]},"axis":{"format":"%H:%M","values":[{"year":2019,"month":7,"date":7,"hours":8,"minutes":32},{"year":2019,"month":7,"date":7,"hours":8,"minutes":34},{"year":2019,"month":7,"date":7,"hours":8,"minutes":36},{"year":2019,"month":7,"date":7,"hours":8,"minutes":38},{"year":2019,"month":7,"date":7,"hours":8,"minutes":40}]}},"y":{"field":"v","type":"quantitative","title":null,"scale":{"domain":[-30,972.2],"nice":false,"zero":false},"axis":{"values":[0,200,400,600]}},"color":{"field":"s","type":"nominal","scale":{"domain":["A","H","P"],"range":["#E41A1C","#377EB8","#4DAF4A"]},"legend":{"title":"pCO2 record","orient":"none","legendX":553,"legendY":1974,"labelExpr":"datum.value == 'A' ? 'analog CTD' : datum.value == 'H' ? 'HydroC, drift corrected' : 'pre cleaning'"}},"detail":{"field":"g"}}},{"data":{"values":[{}]},"mark":{"type":"rect","fill":"#D9D9D9","stroke":"#333333","strokeWidth":1.2},"encoding":{"y":{"datum":630},"y2":{"datum":972.2}}},{"data":{"values":[{"n":"4"}]},"mark":{"type":"text","fontSize":14,"color":"#1A1A1A"},"encoding":{"y":{"datum":801.1},"text":{"field":"n"}}}]},
{"width":528,"height":82,"layer":[{"data":{"name":"p5"},"mark":{"type":"line","strokeWidth":1.1,"clip":true},"encoding":{"x":{"field":"t","type":"temporal","title":null,"scale":{"domain":[{"year":2019,"month":7,"date":8,"hours":11,"minutes":19,"seconds":33},{"year":2019,"month":7,"date":8,"hours":11,"minutes":36,"seconds":0}]},"axis":{"format":"%H:%M","values":[{"year":2019,"month":7,"date":8,"hours":11,"minutes":20},{"year":2019,"month":7,"date":8,"hours":11,"minutes":25},{"year":2019,"month":7,"date":8,"hours":11,"minutes":30},{"year":2019,"month":7,"date":8,"hours":11,"minutes":35}]}},"y":{"field":"v","type":"quantitative","title":null,"scale":{"domain":[-30,972.2],"nice":false,"zero":false},"axis":{"values":[0,200,400,600]}},"color":{"field":"s","type":"nominal","scale":{"domain":["A","H","P"],"range":["#E41A1C","#377EB8","#4DAF4A"]},"legend":{"title":"pCO2 record","orient":"none","legendX":553,"legendY":1974,"labelExpr":"datum.value == 'A' ? 'analog CTD' : datum.value == 'H' ? 'HydroC, drift corrected' : 'pre cleaning'"}},"detail":{"field":"g"}}},{"data":{"values":[{}]},"mark":{"type":"rect","fill":"#D9D9D9","stroke":"#333333","strokeWidth":1.2},"encoding":{"y":{"datum":630},"y2":{"datum":972.2}}},{"data":{"values":[{"n":"5"}]},"mark":{"type":"text","fontSize":14,"color":"#1A1A1A"},"encoding":{"y":{"datum":801.1},"text":{"field":"n"}}}]},
{"width":528,"height":82,"layer":[{"data":{"name":"p6"},"mark":{"type":"line","strokeWidth":1.1,"clip":true},"encoding":{"x":{"field":"t","type":"temporal","title":null,"scale":{"domain":[{"year":2019,"month":7,"date":9,"hours":10,"minutes":10},{"year":2019,"month":7,"date":10,"hours":22,"minutes":30}]},"axis":{"format":"%b %d %H:%M","values":[{"year":2019,"month":7,"date":9,"hours":12},{"year":2019,"month":7,"date":10,"hours":0},{"year":2019,"month":7,"date":10,"hours":12}]}},"y":{"field":"v","type":"quantitative","title":null,"scale":{"domain":[-30,972.2],"nice":false,"zero":false},"axis":{"values":[0,200,400,600]}},"color":{"field":"s","type":"nominal","scale":{"domain":["A","H","P"],"range":["#E41A1C","#377EB8","#4DAF4A"]},"legend":{"title":"pCO2 record","orient":"none","legendX":553,"legendY":1974,"labelExpr":"datum.value == 'A' ? 'analog CTD' : datum.value == 'H' ? 'HydroC, drift corrected' : 'pre cleaning'"}},"detail":{"field":"g"}}},{"data":{"values":[{}]},"mark":{"type":"rect","fill":"#D9D9D9","stroke":"#333333","strokeWidth":1.2},"encoding":{"y":{"datum":630},"y2":{"datum":972.2}}},{"data":{"values":[{"n":"6"}]},"mark":{"type":"text","fontSize":14,"color":"#1A1A1A"},"encoding":{"y":{"datum":801.1},"text":{"field":"n"}}}]},
{"width":528,"height":82,"layer":[{"data":{"name":"p7"},"mark":{"type":"line","strokeWidth":1.1,"clip":true},"encoding":{"x":{"field":"t","type":"temporal","title":null,"scale":{"domain":[{"year":2019,"month":7,"date":10,"hours":21,"minutes":1,"seconds":15},{"year":2019,"month":7,"date":10,"hours":22,"minutes":25,"seconds":32}]},"axis":{"format":"%H:%M","values":[{"year":2019,"month":7,"date":10,"hours":21,"minutes":15},{"year":2019,"month":7,"date":10,"hours":21,"minutes":30},{"year":2019,"month":7,"date":10,"hours":21,"minutes":45},{"year":2019,"month":7,"date":10,"hours":22,"minutes":0},{"year":2019,"month":7,"date":10,"hours":22,"minutes":15}]}},"y":{"field":"v","type":"quantitative","title":null,"scale":{"domain":[-30,972.2],"nice":false,"zero":false},"axis":{"values":[0,200,400,600]}},"color":{"field":"s","type":"nominal","scale":{"domain":["A","H","P"],"range":["#E41A1C","#377EB8","#4DAF4A"]},"legend":{"title":"pCO2 record","orient":"none","legendX":553,"legendY":1974,"labelExpr":"datum.value == 'A' ? 'analog CTD' : datum.value == 'H' ? 'HydroC, drift corrected' : 'pre cleaning'"}},"detail":{"field":"g"}}},{"data":{"values":[{}]},"mark":{"type":"rect","fill":"#D9D9D9","stroke":"#333333","strokeWidth":1.2},"encoding":{"y":{"datum":630},"y2":{"datum":972.2}}},{"data":{"values":[{"n":"7"}]},"mark":{"type":"text","fontSize":14,"color":"#1A1A1A"},"encoding":{"y":{"datum":801.1},"text":{"field":"n"}}}]},
{"width":528,"height":82,"layer":[{"data":{"name":"p8"},"mark":{"type":"line","strokeWidth":1.1,"clip":true},"encoding":{"x":{"field":"t","type":"temporal","title":null,"scale":{"domain":[{"year":2019,"month":7,"date":11,"hours":14,"minutes":23,"seconds":33},{"year":2019,"month":7,"date":11,"hours":14,"minutes":25,"seconds":23}]},"axis":{"format":"%H:%M:%S","values":[{"year":2019,"month":7,"date":11,"hours":14,"minutes":24,"seconds":0},{"year":2019,"month":7,"date":11,"hours":14,"minutes":24,"seconds":30},{"year":2019,"month":7,"date":11,"hours":14,"minutes":25,"seconds":0}]}},"y":{"field":"v","type":"quantitative","title":null,"scale":{"domain":[-30,972.2],"nice":false,"zero":false},"axis":{"values":[0,200,400,600]}},"color":{"field":"s","type":"nominal","scale":{"domain":["A","H","P"],"range":["#E41A1C","#377EB8","#4DAF4A"]},"legend":{"title":"pCO2 record","orient":"none","legendX":553,"legendY":1974,"labelExpr":"datum.value == 'A' ? 'analog CTD' : datum.value == 'H' ? 'HydroC, drift corrected' : 'pre cleaning'"}},"detail":{"field":"g"}}},{"data":{"values":[{}]},"mark":{"type":"rect","fill":"#D9D9D9","stroke":"#333333","strokeWidth":1.2},"encoding":{"y":{"datum":630},"y2":{"datum":972.2}}},{"data":{"values":[{"n":"8"}]},"mark":{"type":"text","fontSize":14,"color":"#1A1A1A"},"encoding":{"y":{"datum":801.1},"text":{"field":"n"}}}]},
{"width":528,"height":82,"layer":[{"data":{"name":"p9"},"mark":{"type":"line","strokeWidth":1.1,"clip":true},"encoding":{"x":{"field":"t","type":"temporal","title":null,"scale":{"domain":[{"year":2019,"month":7,"date":11,"hours":15,"minutes":48,"seconds":5},{"year":2019,"month":7,"date":11,"hours":19,"minutes":51,"seconds":13}]},"axis":{"format":"%H:%M","values":[{"year":2019,"month":7,"date":11,"hours":16},{"year":2019,"month":7,"date":11,"hours":17},{"year":2019,"month":7,"date":11,"hours":18},{"year":2019,"month":7,"date":11,"hours":19}]}},"y":{"field":"v","type":"quantitative","title":null,"scale":{"domain":[-30,972.2],"nice":false,"zero":false},"axis":{"values":[0,200,400,600]}},"color":{"field":"s","type":"nominal","scale":{"domain":["A","H","P"],"range":["#E41A1C","#377EB8","#4DAF4A"]},"legend":{"title":"pCO2 record","orient":"none","legendX":553,"legendY":1974,"labelExpr":"datum.value == 'A' ? 'analog CTD' : datum.value == 'H' ? 'HydroC, drift corrected' : 'pre cleaning'"}},"detail":{"field":"g"}}},{"data":{"values":[{}]},"mark":{"type":"rect","fill":"#D9D9D9","stroke":"#333333","strokeWidth":1.2},"encoding":{"y":{"datum":630},"y2":{"datum":972.2}}},{"data":{"values":[{"n":"9"}]},"mark":{"type":"text","fontSize":14,"color":"#1A1A1A"},"encoding":{"y":{"datum":801.1},"text":{"field":"n"}}}]},
{"width":528,"height":82,"layer":[{"data":{"name":"p10"},"mark":{"type":"line","strokeWidth":1.1,"clip":true},"encoding":{"x":{"field":"t","type":"temporal","title":null,"scale":{"domain":[{"year":2019,"month":7,"date":12,"hours":19,"minutes":45,"seconds":58},{"year":2019,"month":7,"date":12,"hours":20,"minutes":2,"seconds":25}]},"axis":{"format":"%H:%M","values":[{"year":2019,"month":7,"date":12,"hours":19,"minutes":50},{"year":2019,"month":7,"date":12,"hours":19,"minutes":55},{"year":2019,"month":7,"date":12,"hours":20,"minutes":0}]}},"y":{"field":"v","type":"quantitative","title":null,"scale":{"domain":[-30,972.2],"nice":false,"zero":false},"axis":{"values":[0,200,400,600]}},"color":{"field":"s","type":"nominal","scale":{"domain":["A","H","P"],"range":["#E41A1C","#377EB8","#4DAF4A"]},"legend":{"title":"pCO2 record","orient":"none","legendX":553,"legendY":1974,"labelExpr":"datum.value == 'A' ? 'analog CTD' : datum.value == 'H' ? 'HydroC, drift corrected' : 'pre cleaning'"}},"detail":{"field":"g"}}},{"data":{"values":[{}]},"mark":{"type":"rect","fill":"#D9D9D9","stroke":"#333333","strokeWidth":1.2},"encoding":{"y":{"datum":630},"y2":{"datum":972.2}}},{"data":{"values":[{"n":"10"}]},"mark":{"type":"text","fontSize":14,"color":"#1A1A1A"},"encoding":{"y":{"datum":801.1},"text":{"field":"n"}}}]},
{"width":528,"height":82,"layer":[{"data":{"name":"p11"},"mark":{"type":"line","strokeWidth":1.1,"clip":true},"encoding":{"x":{"field":"t","type":"temporal","title":null,"scale":{"domain":[{"year":2019,"month":7,"date":13,"hours":10,"minutes":0,"seconds":32,"milliseconds":500},{"year":2019,"month":7,"date":13,"hours":10,"minutes":0,"seconds":33,"milliseconds":500}]},"axis":{"format":"%S","values":[{"year":2019,"month":7,"date":13,"hours":10,"minutes":0,"seconds":33}]}},"y":{"field":"v","type":"quantitative","title":null,"scale":{"domain":[-30,972.2],"nice":false,"zero":false},"axis":{"values":[0,200,400,600]}},"color":{"field":"s","type":"nominal","scale":{"domain":["A","H","P"],"range":["#E41A1C","#377EB8","#4DAF4A"]},"legend":{"title":"pCO2 record","orient":"none","legendX":553,"legendY":1974,"labelExpr":"datum.value == 'A' ? 'analog CTD' : datum.value == 'H' ? 'HydroC, drift corrected' : 'pre cleaning'"}},"detail":{"field":"g"}}},{"data":{"values":[{}]},"mark":{"type":"rect","fill":"#D9D9D9","stroke":"#333333","strokeWidth":1.2},"encoding":{"y":{"datum":630},"y2":{"datum":972.2}}},{"data":{"values":[{"n":"11"}]},"mark":{"type":"text","fontSize":14,"color":"#1A1A1A"},"encoding":{"y":{"datum":801.1},"text":{"field":"n"}}}]},
{"width":528,"height":82,"layer":[{"data":{"name":"p12"},"mark":{"type":"line","strokeWidth":1.1,"clip":true},"encoding":{"x":{"field":"t","type":"temporal","title":null,"scale":{"domain":[{"year":2019,"month":7,"date":14,"hours":7,"minutes":50,"seconds":25},{"year":2019,"month":7,"date":14,"hours":8,"minutes":4,"seconds":14}]},"axis":{"format":"%H:%M","values":[{"year":2019,"month":7,"date":14,"hours":7,"minutes":55},{"year":2019,"month":7,"date":14,"hours":8,"minutes":0}]}},"y":{"field":"v","type":"quantitative","title":null,"scale":{"domain":[-30,972.2],"nice":false,"zero":false},"axis":{"values":[0,200,400,600]}},"color":{"field":"s","type":"nominal","scale":{"domain":["A","H","P"],"range":["#E41A1C","#377EB8","#4DAF4A"]},"legend":{"title":"pCO2 record","orient":"none","legendX":553,"legendY":1974,"labelExpr":"datum.value == 'A' ? 'analog CTD' : datum.value == 'H' ? 'HydroC, drift corrected' : 'pre cleaning'"}},"detail":{"field":"g"}}},{"data":{"values":[{}]},"mark":{"type":"rect","fill":"#D9D9D9","stroke":"#333333","strokeWidth":1.2},"encoding":{"y":{"datum":630},"y2":{"datum":972.2}}},{"data":{"values":[{"n":"12"}]},"mark":{"type":"text","fontSize":14,"color":"#1A1A1A"},"encoding":{"y":{"datum":801.1},"text":{"field":"n"}}}]},
{"width":528,"height":82,"layer":[{"data":{"name":"p13"},"mark":{"type":"line","strokeWidth":1.1,"clip":true},"encoding":{"x":{"field":"t","type":"temporal","title":null,"scale":{"domain":[{"year":2019,"month":7,"date":14,"hours":10,"minutes":56,"seconds":43},{"year":2019,"month":7,"date":14,"hours":11,"minutes":13,"seconds":31}]},"axis":{"format":"%H:%M","values":[{"year":2019,"month":7,"date":14,"hours":11,"minutes":0},{"year":2019,"month":7,"date":14,"hours":11,"minutes":5},{"year":2019,"month":7,"date":14,"hours":11,"minutes":10}]}},"y":{"field":"v","type":"quantitative","title":null,"scale":{"domain":[-30,972.2],"nice":false,"zero":false},"axis":{"values":[0,200,400,600]}},"color":{"field":"s","type":"nominal","scale":{"domain":["A","H","P"],"range":["#E41A1C","#377EB8","#4DAF4A"]},"legend":{"title":"pCO2 record","orient":"none","legendX":553,"legendY":1974,"labelExpr":"datum.value == 'A' ? 'analog CTD' : datum.value == 'H' ? 'HydroC, drift corrected' : 'pre cleaning'"}},"detail":{"field":"g"}}},{"data":{"values":[{}]},"mark":{"type":"rect","fill":"#D9D9D9","stroke":"#333333","strokeWidth":1.2},"encoding":{"y":{"datum":630},"y2":{"datum":972.2}}},{"data":{"values":[{"n":"13"}]},"mark":{"type":"text","fontSize":14,"color":"#1A1A1A"},"encoding":{"y":{"datum":801.1},"text":{"field":"n"}}}]},
{"width":528,"height":82,"layer":[{"data":{"name":"p14"},"mark":{"type":"line","strokeWidth":1.1,"clip":true},"encoding":{"x":{"field":"t","type":"temporal","title":null,"scale":{"domain":[{"year":2019,"month":7,"date":15,"hours":11,"minutes":1,"seconds":34},{"year":2019,"month":7,"date":15,"hours":18,"minutes":52,"seconds":28}]},"axis":{"format":"%H:%M","values":[{"year":2019,"month":7,"date":15,"hours":12},{"year":2019,"month":7,"date":15,"hours":15},{"year":2019,"month":7,"date":15,"hours":18}]}},"y":{"field":"v","type":"quantitative","title":null,"scale":{"domain":[-30,972.2],"nice":false,"zero":false},"axis":{"values":[0,200,400,600]}},"color":{"field":"s","type":"nominal","scale":{"domain":["A","H","P"],"range":["#E41A1C","#377EB8","#4DAF4A"]},"legend":{"title":"pCO2 record","orient":"none","legendX":553,"legendY":1974,"labelExpr":"datum.value == 'A' ? 'analog CTD' : datum.value == 'H' ? 'HydroC, drift corrected' : 'pre cleaning'"}},"detail":{"field":"g"}}},{"data":{"values":[{}]},"mark":{"type":"rect","fill":"#D9D9D9","stroke":"#333333","strokeWidth":1.2},"encoding":{"y":{"datum":630},"y2":{"datum":972.2}}},{"data":{"values":[{"n":"14"}]},"mark":{"type":"text","fontSize":14,"color":"#1A1A1A"},"encoding":{"y":{"datum":801.1},"text":{"field":"n"}}}]},
{"width":528,"height":82,"layer":[{"data":{"name":"p15"},"mark":{"type":"line","strokeWidth":1.1,"clip":true},"encoding":{"x":{"field":"t","type":"temporal","title":null,"scale":{"domain":[{"year":2019,"month":7,"date":15,"hours":19,"minutes":27,"seconds":8},{"year":2019,"month":7,"date":15,"hours":19,"minutes":48,"seconds":1}]},"axis":{"format":"%H:%M","values":[{"year":2019,"month":7,"date":15,"hours":19,"minutes":30},{"year":2019,"month":7,"date":15,"hours":19,"minutes":35},{"year":2019,"month":7,"date":15,"hours":19,"minutes":40},{"year":2019,"month":7,"date":15,"hours":19,"minutes":45}]}},"y":{"field":"v","type":"quantitative","title":null,"scale":{"domain":[-30,972.2],"nice":false,"zero":false},"axis":{"values":[0,200,400,600]}},"color":{"field":"s","type":"nominal","scale":{"domain":["A","H","P"],"range":["#E41A1C","#377EB8","#4DAF4A"]},"legend":{"title":"pCO2 record","orient":"none","legendX":553,"legendY":1974,"labelExpr":"datum.value == 'A' ? 'analog CTD' : datum.value == 'H' ? 'HydroC, drift corrected' : 'pre cleaning'"}},"detail":{"field":"g"}}},{"data":{"values":[{}]},"mark":{"type":"rect","fill":"#D9D9D9","stroke":"#333333","strokeWidth":1.2},"encoding":{"y":{"datum":630},"y2":{"datum":972.2}}},{"data":{"values":[{"n":"15"}]},"mark":{"type":"text","fontSize":14,"color":"#1A1A1A"},"encoding":{"y":{"datum":801.1},"text":{"field":"n"}}}]},
{"width":528,"height":82,"layer":[{"data":{"name":"p16"},"mark":{"type":"line","strokeWidth":1.1,"clip":true},"encoding":{"x":{"field":"t","type":"temporal","title":null,"scale":{"domain":[{"year":2019,"month":7,"date":16,"hours":16,"minutes":4,"seconds":42},{"year":2019,"month":7,"date":16,"hours":16,"minutes":21,"seconds":32}]},"axis":{"format":"%H:%M","values":[{"year":2019,"month":7,"date":16,"hours":16,"minutes":5},{"year":2019,"month":7,"date":16,"hours":16,"minutes":10},{"year":2019,"month":7,"date":16,"hours":16,"minutes":15},{"year":2019,"month":7,"date":16,"hours":16,"minutes":20}]}},"y":{"field":"v","type":"quantitative","title":null,"scale":{"domain":[-30,972.2],"nice":false,"zero":false},"axis":{"values":[0,200,400,600]}},"color":{"field":"s","type":"nominal","scale":{"domain":["A","H","P"],"range":["#E41A1C","#377EB8","#4DAF4A"]},"legend":{"title":"pCO2 record","orient":"none","legendX":553,"legendY":1974,"labelExpr":"datum.value == 'A' ? 'analog CTD' : datum.value == 'H' ? 'HydroC, drift corrected' : 'pre cleaning'"}},"detail":{"field":"g"}}},{"data":{"values":[{}]},"mark":{"type":"rect","fill":"#D9D9D9","stroke":"#333333","strokeWidth":1.2},"encoding":{"y":{"datum":630},"y2":{"datum":972.2}}},{"data":{"values":[{"n":"16"}]},"mark":{"type":"text","fontSize":14,"color":"#1A1A1A"},"encoding":{"y":{"datum":801.1},"text":{"field":"n"}}}]},
{"width":528,"height":82,"layer":[{"data":{"name":"p17"},"mark":{"type":"line","strokeWidth":1.1,"clip":true},"encoding":{"x":{"field":"t","type":"temporal","title":null,"scale":{"domain":[{"year":2019,"month":7,"date":16,"hours":16,"minutes":7,"seconds":56},{"year":2019,"month":7,"date":16,"hours":23,"minutes":42,"seconds":0}]},"axis":{"format":"%H:%M","values":[{"year":2019,"month":7,"date":16,"hours":18},{"year":2019,"month":7,"date":16,"hours":21}]}},"y":{"field":"v","type":"quantitative","title":null,"scale":{"domain":[-30,972.2],"nice":false,"zero":false},"axis":{"values":[0,200,400,600]}},"color":{"field":"s","type":"nominal","scale":{"domain":["A","H","P"],"range":["#E41A1C","#377EB8","#4DAF4A"]},"legend":{"title":"pCO2 record","orient":"none","legendX":553,"legendY":1974,"labelExpr":"datum.value == 'A' ? 'analog CTD' : datum.value == 'H' ? 'HydroC, drift corrected' : 'pre cleaning'"}},"detail":{"field":"g"}}},{"data":{"values":[{}]},"mark":{"type":"rect","fill":"#D9D9D9","stroke":"#333333","strokeWidth":1.2},"encoding":{"y":{"datum":630},"y2":{"datum":972.2}}},{"data":{"values":[{"n":"17"}]},"mark":{"type":"text","fontSize":14,"color":"#1A1A1A"},"encoding":{"y":{"datum":801.1},"text":{"field":"n"}}}]},
{"width":528,"height":82,"layer":[{"data":{"name":"p18"},"mark":{"type":"line","strokeWidth":1.1,"clip":true},"encoding":{"x":{"field":"t","type":"temporal","title":null,"scale":{"domain":[{"year":2019,"month":7,"date":16,"hours":23,"minutes":26,"seconds":52},{"year":2019,"month":7,"date":16,"hours":23,"minutes":44,"seconds":46}]},"axis":{"format":"%H:%M","values":[{"year":2019,"month":7,"date":16,"hours":23,"minutes":30},{"year":2019,"month":7,"date":16,"hours":23,"minutes":35},{"year":2019,"month":7,"date":16,"hours":23,"minutes":40}]}},"y":{"field":"v","type":"quantitative","title":null,"scale":{"domain":[-30,972.2],"nice":false,"zero":false},"axis":{"values":[0,200,400,600]}},"color":{"field":"s","type":"nominal","scale":{"domain":["A","H","P"],"range":["#E41A1C","#377EB8","#4DAF4A"]},"legend":{"title":"pCO2 record","orient":"none","legendX":553,"legendY":1974,"labelExpr":"datum.value == 'A' ? 'analog CTD' : datum.value == 'H' ? 'HydroC, drift corrected' : 'pre cleaning'"}},"detail":{"field":"g"}}},{"data":{"values":[{}]},"mark":{"type":"rect","fill":"#D9D9D9","stroke":"#333333","strokeWidth":1.2},"encoding":{"y":{"datum":630},"y2":{"datum":972.2}}},{"data":{"values":[{"n":"18"}]},"mark":{"type":"text","fontSize":14,"color":"#1A1A1A"},"encoding":{"y":{"datum":801.1},"text":{"field":"n"}}}]},
{"width":528,"height":82,"layer":[{"data":{"name":"p19"},"mark":{"type":"line","strokeWidth":1.1,"clip":true},"encoding":{"x":{"field":"t","type":"temporal","title":null,"scale":{"domain":[{"year":2019,"month":7,"date":17,"hours":12,"minutes":9,"seconds":24,"milliseconds":200},{"year":2019,"month":7,"date":17,"hours":12,"minutes":10,"seconds":52,"milliseconds":800}]},"axis":{"format":"%H:%M:%S","values":[{"year":2019,"month":7,"date":17,"hours":12,"minutes":9,"seconds":30},{"year":2019,"month":7,"date":17,"hours":12,"minutes":10,"seconds":0},{"year":2019,"month":7,"date":17,"hours":12,"minutes":10,"seconds":30}]}},"y":{"field":"v","type":"quantitative","title":null,"scale":{"domain":[-30,972.2],"nice":false,"zero":false},"axis":{"values":[0,200,400,600]}},"color":{"field":"s","type":"nominal","scale":{"domain":["A","H","P"],"range":["#E41A1C","#377EB8","#4DAF4A"]},"legend":{"title":"pCO2 record","orient":"none","legendX":553,"legendY":1974,"labelExpr":"datum.value == 'A' ? 'analog CTD' : datum.value == 'H' ? 'HydroC, drift corrected' : 'pre cleaning'"}},"detail":{"field":"g"}}},{"data":{"values":[{}]},"mark":{"type":"rect","fill":"#D9D9D9","stroke":"#333333","strokeWidth":1.2},"encoding":{"y":{"datum":630},"y2":{"datum":972.2}}},{"data":{"values":[{"n":"19"}]},"mark":{"type":"text","fontSize":14,"color":"#1A1A1A"},"encoding":{"y":{"datum":801.1},"text":{"field":"n"}}}]},
{"width":528,"height":82,"layer":[{"data":{"name":"p20"},"mark":{"type":"line","strokeWidth":1.1,"clip":true},"encoding":{"x":{"field":"t","type":"temporal","title":null,"scale":{"domain":[{"year":2019,"month":7,"date":17,"hours":12,"minutes":21,"seconds":33,"milliseconds":600},{"year":2019,"month":7,"date":17,"hours":12,"minutes":28,"seconds":14,"milliseconds":500}]},"axis":{"format":"%H:%M","values":[{"year":2019,"month":7,"date":17,"hours":12,"minutes":22},{"year":2019,"month":7,"date":17,"hours":12,"minutes":24},{"year":2019,"month":7,"date":17,"hours":12,"minutes":26},{"year":2019,"month":7,"date":17,"hours":12,"minutes":28}]}},"y":{"field":"v","type":"quantitative","title":null,"scale":{"domain":[-30,972.2],"nice":false,"zero":false},"axis":{"values":[0,200,400,600]}},"color":{"field":"s","type":"nominal","scale":{"domain":["A","H","P"],"range":["#E41A1C","#377EB8","#4DAF4A"]},"legend":{"title":"pCO2 record","orient":"none","legendX":553,"legendY":1974,"labelExpr":"datum.value == 'A' ? 'analog CTD' : datum.value == 'H' ? 'HydroC, drift corrected' : 'pre cleaning'"}},"detail":{"field":"g"}}},{"data":{"values":[{}]},"mark":{"type":"rect","fill":"#D9D9D9","stroke":"#333333","strokeWidth":1.2},"encoding":{"y":{"datum":630},"y2":{"datum":972.2}}},{"data":{"values":[{"n":"20"}]},"mark":{"type":"text","fontSize":14,"color":"#1A1A1A"},"encoding":{"y":{"datum":801.1},"text":{"field":"n"}}}]},
{"width":528,"height":82,"layer":[{"data":{"name":"p21"},"mark":{"type":"line","strokeWidth":1.1,"clip":true},"encoding":{"x":{"field":"t","type":"temporal","title":null,"scale":{"domain":[{"year":2019,"month":7,"date":17,"hours":12,"minutes":39,"seconds":29},{"year":2019,"month":7,"date":17,"hours":23,"minutes":51,"seconds":1}]},"axis":{"format":"%H:%M","values":[{"year":2019,"month":7,"date":17,"hours":15},{"year":2019,"month":7,"date":17,"hours":18},{"year":2019,"month":7,"date":17,"hours":21}]}},"y":{"field":"v","type":"quantitative","title":null,"scale":{"domain":[-30,972.2],"nice":false,"zero":false},"axis":{"values":[0,200,400,600]}},"color":{"field":"s","type":"nominal","scale":{"domain":["A","H","P"],"range":["#E41A1C","#377EB8","#4DAF4A"]},"legend":{"title":"pCO2 record","orient":"none","legendX":553,"legendY":1974,"labelExpr":"datum.value == 'A' ? 'analog CTD' : datum.value == 'H' ? 'HydroC, drift corrected' : 'pre cleaning'"}},"detail":{"field":"g"}}},{"data":{"values":[{}]},"mark":{"type":"rect","fill":"#D9D9D9","stroke":"#333333","strokeWidth":1.2},"encoding":{"y":{"datum":630},"y2":{"datum":972.2}}},{"data":{"values":[{"n":"21"}]},"mark":{"type":"text","fontSize":14,"color":"#1A1A1A"},"encoding":{"y":{"datum":801.1},"text":{"field":"n"}}}]},
{"width":528,"height":82,"layer":[{"data":{"name":"p22"},"mark":{"type":"line","strokeWidth":1.1,"clip":true},"encoding":{"x":{"field":"t","type":"temporal","title":null,"scale":{"domain":[{"year":2019,"month":7,"date":18,"hours":9,"minutes":0,"seconds":4,"milliseconds":500},{"year":2019,"month":7,"date":18,"hours":9,"minutes":0,"seconds":5,"milliseconds":500}]},"axis":{"format":"%S","values":[{"year":2019,"month":7,"date":18,"hours":9,"minutes":0,"seconds":5}]}},"y":{"field":"v","type":"quantitative","title":null,"scale":{"domain":[-30,972.2],"nice":false,"zero":false},"axis":{"values":[0,200,400,600]}},"color":{"field":"s","type":"nominal","scale":{"domain":["A","H","P"],"range":["#E41A1C","#377EB8","#4DAF4A"]},"legend":{"title":"pCO2 record","orient":"none","legendX":553,"legendY":1974,"labelExpr":"datum.value == 'A' ? 'analog CTD' : datum.value == 'H' ? 'HydroC, drift corrected' : 'pre cleaning'"}},"detail":{"field":"g"}}},{"data":{"values":[{}]},"mark":{"type":"rect","fill":"#D9D9D9","stroke":"#333333","strokeWidth":1.2},"encoding":{"y":{"datum":630},"y2":{"datum":972.2}}},{"data":{"values":[{"n":"22"}]},"mark":{"type":"text","fontSize":14,"color":"#1A1A1A"},"encoding":{"y":{"datum":801.1},"text":{"field":"n"}}}]},
{"width":528,"height":82,"layer":[{"data":{"name":"p23"},"mark":{"type":"line","strokeWidth":1.1,"clip":true},"encoding":{"x":{"field":"t","type":"temporal","title":null,"scale":{"domain":[{"year":2019,"month":7,"date":18,"hours":17,"minutes":14,"seconds":24},{"year":2019,"month":7,"date":20,"hours":12,"minutes":21,"seconds":36}]},"axis":{"format":"%b %d %H:%M","values":[{"year":2019,"month":7,"date":19,"hours":0},{"year":2019,"month":7,"date":19,"hours":12},{"year":2019,"month":7,"date":20,"hours":0},{"year":2019,"month":7,"date":20,"hours":12}]}},"y":{"field":"v","type":"quantitative","title":null,"scale":{"domain":[-30,972.2],"nice":false,"zero":false},"axis":{"values":[0,200,400,600]}},"color":{"field":"s","type":"nominal","scale":{"domain":["A","H","P"],"range":["#E41A1C","#377EB8","#4DAF4A"]},"legend":{"title":"pCO2 record","orient":"none","legendX":553,"legendY":1974,"labelExpr":"datum.value == 'A' ? 'analog CTD' : datum.value == 'H' ? 'HydroC, drift corrected' : 'pre cleaning'"}},"detail":{"field":"g"}}},{"data":{"values":[{}]},"mark":{"type":"rect","fill":"#D9D9D9","stroke":"#333333","strokeWidth":1.2},"encoding":{"y":{"datum":630},"y2":{"datum":972.2}}},{"data":{"values":[{"n":"23"}]},"mark":{"type":"text","fontSize":14,"color":"#1A1A1A"},"encoding":{"y":{"datum":801.1},"text":{"field":"n"}}}]},
{"width":528,"height":82,"layer":[{"data":{"name":"p24"},"mark":{"type":"line","strokeWidth":1.1,"clip":true},"encoding":{"x":{"field":"t","type":"temporal","title":null,"scale":{"domain":[{"year":2019,"month":7,"date":21,"hours":10,"minutes":57,"seconds":25},{"year":2019,"month":7,"date":21,"hours":12,"minutes":7,"seconds":28}]},"axis":{"format":"%H:%M","values":[{"year":2019,"month":7,"date":21,"hours":11,"minutes":0},{"year":2019,"month":7,"date":21,"hours":11,"minutes":15},{"year":2019,"month":7,"date":21,"hours":11,"minutes":30},{"year":2019,"month":7,"date":21,"hours":11,"minutes":45},{"year":2019,"month":7,"date":21,"hours":12,"minutes":0}]}},"y":{"field":"v","type":"quantitative","title":null,"scale":{"domain":[-30,972.2],"nice":false,"zero":false},"axis":{"values":[0,200,400,600]}},"color":{"field":"s","type":"nominal","scale":{"domain":["A","H","P"],"range":["#E41A1C","#377EB8","#4DAF4A"]},"legend":{"title":"pCO2 record","orient":"none","legendX":553,"legendY":1974,"labelExpr":"datum.value == 'A' ? 'analog CTD' : datum.value == 'H' ? 'HydroC, drift corrected' : 'pre cleaning'"}},"detail":{"field":"g"}}},{"data":{"values":[{}]},"mark":{"type":"rect","fill":"#D9D9D9","stroke":"#333333","strokeWidth":1.2},"encoding":{"y":{"datum":630},"y2":{"datum":972.2}}},{"data":{"values":[{"n":"24"}]},"mark":{"type":"text","fontSize":14,"color":"#1A1A1A"},"encoding":{"y":{"datum":801.1},"text":{"field":"n"}}}]},
{"width":528,"height":82,"layer":[{"data":{"name":"p25"},"mark":{"type":"line","strokeWidth":1.1,"clip":true},"encoding":{"x":{"field":"t","type":"temporal","title":null,"scale":{"domain":[{"year":2019,"month":7,"date":22,"hours":10,"minutes":0,"seconds":36,"milliseconds":600},{"year":2019,"month":7,"date":22,"hours":10,"minutes":1,"seconds":9,"milliseconds":600}]},"axis":{"format":"%S","values":[{"year":2019,"month":7,"date":22,"hours":10,"minutes":0,"seconds":40},{"year":2019,"month":7,"date":22,"hours":10,"minutes":0,"seconds":50},{"year":2019,"month":7,"date":22,"hours":10,"minutes":1,"seconds":0}]}},"y":{"field":"v","type":"quantitative","title":null,"scale":{"domain":[-30,972.2],"nice":false,"zero":false},"axis":{"values":[0,200,400,600]}},"color":{"field":"s","type":"nominal","scale":{"domain":["A","H","P"],"range":["#E41A1C","#377EB8","#4DAF4A"]},"legend":{"title":"pCO2 record","orient":"none","legendX":553,"legendY":1974,"labelExpr":"datum.value == 'A' ? 'analog CTD' : datum.value == 'H' ? 'HydroC, drift corrected' : 'pre cleaning'"}},"detail":{"field":"g"}}},{"data":{"values":[{}]},"mark":{"type":"rect","fill":"#D9D9D9","stroke":"#333333","strokeWidth":1.2},"encoding":{"y":{"datum":630},"y2":{"datum":972.2}}},{"data":{"values":[{"n":"25"}]},"mark":{"type":"text","fontSize":14,"color":"#1A1A1A"},"encoding":{"y":{"datum":801.1},"text":{"field":"n"}}}]},
{"width":528,"height":82,"layer":[{"data":{"name":"p26"},"mark":{"type":"line","strokeWidth":1.1,"clip":true},"encoding":{"x":{"field":"t","type":"temporal","title":null,"scale":{"domain":[{"year":2019,"month":7,"date":22,"hours":12,"minutes":57,"seconds":21},{"year":2019,"month":7,"date":22,"hours":14,"minutes":35,"seconds":5}]},"axis":{"format":"%H:%M","values":[{"year":2019,"month":7,"date":22,"hours":13,"minutes":0},{"year":2019,"month":7,"date":22,"hours":13,"minutes":30},{"year":2019,"month":7,"date":22,"hours":14,"minutes":0},{"year":2019,"month":7,"date":22,"hours":14,"minutes":30}]}},"y":{"field":"v","type":"quantitative","title":null,"scale":{"domain":[-30,972.2],"nice":false,"zero":false},"axis":{"values":[0,200,400,600]}},"color":{"field":"s","type":"nominal","scale":{"domain":["A","H","P"],"range":["#E41A1C","#377EB8","#4DAF4A"]},"legend":{"title":"pCO2 record","orient":"none","legendX":553,"legendY":1974,"labelExpr":"datum.value == 'A' ? 'analog CTD' : datum.value == 'H' ? 'HydroC, drift corrected' : 'pre cleaning'"}},"detail":{"field":"g"}}},{"data":{"values":[{}]},"mark":{"type":"rect","fill":"#D9D9D9","stroke":"#333333","strokeWidth":1.2},"encoding":{"y":{"datum":630},"y2":{"datum":972.2}}},{"data":{"values":[{"n":"26"}]},"mark":{"type":"text","fontSize":14,"color":"#1A1A1A"},"encoding":{"y":{"datum":801.1},"text":{"field":"n"}}}]},
{"width":528,"height":82,"layer":[{"data":{"name":"p27"},"mark":{"type":"line","strokeWidth":1.1,"clip":true},"encoding":{"x":{"field":"t","type":"temporal","title":null,"scale":{"domain":[{"year":2019,"month":7,"date":23,"hours":10,"minutes":25,"seconds":6},{"year":2019,"month":7,"date":25,"hours":19,"minutes":34,"seconds":54}]},"axis":{"format":"%b %d %H:%M","values":[{"year":2019,"month":7,"date":23,"hours":12},{"year":2019,"month":7,"date":24,"hours":0},{"year":2019,"month":7,"date":24,"hours":12},{"year":2019,"month":7,"date":25,"hours":0},{"year":2019,"month":7,"date":25,"hours":12}]}},"y":{"field":"v","type":"quantitative","title":null,"scale":{"domain":[-30,972.2],"nice":false,"zero":false},"axis":{"values":[0,200,400,600]}},"color":{"field":"s","type":"nominal","scale":{"domain":["A","H","P"],"range":["#E41A1C","#377EB8","#4DAF4A"]},"legend":{"title":"pCO2 record","orient":"none","legendX":553,"legendY":1974,"labelExpr":"datum.value == 'A' ? 'analog CTD' : datum.value == 'H' ? 'HydroC, drift corrected' : 'pre cleaning'"}},"detail":{"field":"g"}}},{"data":{"values":[{}]},"mark":{"type":"rect","fill":"#D9D9D9","stroke":"#333333","strokeWidth":1.2},"encoding":{"y":{"datum":630},"y2":{"datum":972.2}}},{"data":{"values":[{"n":"27"}]},"mark":{"type":"text","fontSize":14,"color":"#1A1A1A"},"encoding":{"y":{"datum":801.1},"text":{"field":"n"}}}]},
{"width":528,"height":82,"layer":[{"data":{"name":"p28"},"mark":{"type":"line","strokeWidth":1.1,"clip":true},"encoding":{"x":{"field":"t","type":"temporal","title":null,"scale":{"domain":[{"year":2019,"month":7,"date":26,"hours":9,"minutes":30,"seconds":55,"milliseconds":900},{"year":2019,"month":7,"date":26,"hours":9,"minutes":32,"seconds":6}]},"axis":{"format":"%S","values":[{"year":2019,"month":7,"date":26,"hours":9,"minutes":31,"seconds":0},{"year":2019,"month":7,"date":26,"hours":9,"minutes":31,"seconds":15},{"year":2019,"month":7,"date":26,"hours":9,"minutes":31,"seconds":30},{"year":2019,"month":7,"date":26,"hours":9,"minutes":31,"seconds":45},{"year":2019,"month":7,"date":26,"hours":9,"minutes":32,"seconds":0}]}},"y":{"field":"v","type":"quantitative","title":null,"scale":{"domain":[-30,972.2],"nice":false,"zero":false},"axis":{"values":[0,200,400,600]}},"color":{"field":"s","type":"nominal","scale":{"domain":["A","H","P"],"range":["#E41A1C","#377EB8","#4DAF4A"]},"legend":{"title":"pCO2 record","orient":"none","legendX":553,"legendY":1974,"labelExpr":"datum.value == 'A' ? 'analog CTD' : datum.value == 'H' ? 'HydroC, drift corrected' : 'pre cleaning'"}},"detail":{"field":"g"}}},{"data":{"values":[{}]},"mark":{"type":"rect","fill":"#D9D9D9","stroke":"#333333","strokeWidth":1.2},"encoding":{"y":{"datum":630},"y2":{"datum":972.2}}},{"data":{"values":[{"n":"28"}]},"mark":{"type":"text","fontSize":14,"color":"#1A1A1A"},"encoding":{"y":{"datum":801.1},"text":{"field":"n"}}}]},
{"width":528,"height":82,"layer":[{"data":{"name":"p29"},"mark":{"type":"line","strokeWidth":1.1,"clip":true},"encoding":{"x":{"field":"t","type":"temporal","title":null,"scale":{"domain":[{"year":2019,"month":7,"date":27,"hours":17,"minutes":15,"seconds":48},{"year":2019,"month":7,"date":27,"hours":21,"minutes":32,"seconds":12}]},"axis":{"format":"%H:%M","values":[{"year":2019,"month":7,"date":27,"hours":18},{"year":2019,"month":7,"date":27,"hours":19},{"year":2019,"month":7,"date":27,"hours":20},{"year":2019,"month":7,"date":27,"hours":21}]}},"y":{"field":"v","type":"quantitative","title":null,"scale":{"domain":[-30,972.2],"nice":false,"zero":false},"axis":{"values":[0,200,400,600]}},"color":{"field":"s","type":"nominal","scale":{"domain":["A","H","P"],"range":["#E41A1C","#377EB8","#4DAF4A"]},"legend":{"title":"pCO2 record","orient":"none","legendX":553,"legendY":1974,"labelExpr":"datum.value == 'A' ? 'analog CTD' : datum.value == 'H' ? 'HydroC, drift corrected' : 'pre cleaning'"}},"detail":{"field":"g"}}},{"data":{"values":[{}]},"mark":{"type":"rect","fill":"#D9D9D9","stroke":"#333333","strokeWidth":1.2},"encoding":{"y":{"datum":630},"y2":{"datum":972.2}}},{"data":{"values":[{"n":"29"}]},"mark":{"type":"text","fontSize":14,"color":"#1A1A1A"},"encoding":{"y":{"datum":801.1},"text":{"field":"n"}}}]},
{"width":528,"height":82,"layer":[{"data":{"name":"p30"},"mark":{"type":"line","strokeWidth":1.1,"clip":true},"encoding":{"x":{"field":"t","type":"temporal","title":null,"scale":{"domain":[{"year":2019,"month":7,"date":29,"hours":9,"minutes":50,"seconds":13},{"year":2019,"month":7,"date":29,"hours":10,"minutes":9,"seconds":47}]},"axis":{"format":"%H:%M","values":[{"year":2019,"month":7,"date":29,"hours":9,"minutes":55},{"year":2019,"month":7,"date":29,"hours":10,"minutes":0},{"year":2019,"month":7,"date":29,"hours":10,"minutes":5}]}},"y":{"field":"v","type":"quantitative","title":null,"scale":{"domain":[-30,972.2],"nice":false,"zero":false},"axis":{"values":[0,200,400,600]}},"color":{"field":"s","type":"nominal","scale":{"domain":["A","H","P"],"range":["#E41A1C","#377EB8","#4DAF4A"]},"legend":{"title":"pCO2 record","orient":"none","legendX":553,"legendY":1974,"labelExpr":"datum.value == 'A' ? 'analog CTD' : datum.value == 'H' ? 'HydroC, drift corrected' : 'pre cleaning'"}},"detail":{"field":"g"}}},{"data":{"values":[{}]},"mark":{"type":"rect","fill":"#D9D9D9","stroke":"#333333","strokeWidth":1.2},"encoding":{"y":{"datum":630},"y2":{"datum":972.2}}},{"data":{"values":[{"n":"30"}]},"mark":{"type":"text","fontSize":14,"color":"#1A1A1A"},"encoding":{"y":{"datum":801.1},"text":{"field":"n"}}}]},
{"width":528,"height":82,"layer":[{"data":{"name":"p31"},"mark":{"type":"line","strokeWidth":1.1,"clip":true},"encoding":{"x":{"field":"t","type":"temporal","title":null,"scale":{"domain":[{"year":2019,"month":7,"date":30,"hours":9,"minutes":3,"seconds":27},{"year":2019,"month":8,"date":1,"hours":0,"minutes":29,"seconds":33}]},"axis":{"format":"%b %d %H:%M","values":[{"year":2019,"month":7,"date":30,"hours":12},{"year":2019,"month":7,"date":31,"hours":0},{"year":2019,"month":7,"date":31,"hours":12},{"year":2019,"month":8,"date":1,"hours":0}]}},"y":{"field":"v","type":"quantitative","title":null,"scale":{"domain":[-30,972.2],"nice":false,"zero":false},"axis":{"values":[0,200,400,600]}},"color":{"field":"s","type":"nominal","scale":{"domain":["A","H","P"],"range":["#E41A1C","#377EB8","#4DAF4A"]},"legend":{"title":"pCO2 record","orient":"none","legendX":553,"legendY":1974,"labelExpr":"datum.value == 'A' ? 'analog CTD' : datum.value == 'H' ? 'HydroC, drift corrected' : 'pre cleaning'"}},"detail":{"field":"g"}}},{"data":{"values":[{}]},"mark":{"type":"rect","fill":"#D9D9D9","stroke":"#333333","strokeWidth":1.2},"encoding":{"y":{"datum":630},"y2":{"datum":972.2}}},{"data":{"values":[{"n":"31"}]},"mark":{"type":"text","fontSize":14,"color":"#1A1A1A"},"encoding":{"y":{"datum":801.1},"text":{"field":"n"}}}]},
{"width":528,"height":82,"layer":[{"data":{"name":"p32"},"mark":{"type":"line","strokeWidth":1.1,"clip":true},"encoding":{"x":{"field":"t","type":"temporal","title":null,"scale":{"domain":[{"year":2019,"month":8,"date":1,"hours":23,"minutes":19,"seconds":20},{"year":2019,"month":8,"date":1,"hours":23,"minutes":29,"seconds":42}]},"axis":{"format":"%H:%M","values":[{"year":2019,"month":8,"date":1,"hours":23,"minutes":20},{"year":2019,"month":8,"date":1,"hours":23,"minutes":22},{"year":2019,"month":8,"date":1,"hours":23,"minutes":24},{"year":2019,"month":8,"date":1,"hours":23,"minutes":26},{"year":2019,"month":8,"date":1,"hours":23,"minutes":28}]}},"y":{"field":"v","type":"quantitative","title":null,"scale":{"domain":[-30,972.2],"nice":false,"zero":false},"axis":{"values":[0,200,400,600]}},"color":{"field":"s","type":"nominal","scale":{"domain":["A","H","P"],"range":["#E41A1C","#377EB8","#4DAF4A"]},"legend":{"title":"pCO2 record","orient":"none","legendX":553,"legendY":1974,"labelExpr":"datum.value == 'A' ? 'analog CTD' : datum.value == 'H' ? 'HydroC, drift corrected' : 'pre cleaning'"}},"detail":{"field":"g"}}},{"data":{"values":[{}]},"mark":{"type":"rect","fill":"#D9D9D9","stroke":"#333333","strokeWidth":1.2},"encoding":{"y":{"datum":630},"y2":{"datum":972.2}}},{"data":{"values":[{"n":"32"}]},"mark":{"type":"text","fontSize":14,"color":"#1A1A1A"},"encoding":{"y":{"datum":801.1},"text":{"field":"n"}}}]},
{"width":528,"height":82,"layer":[{"data":{"name":"p33"},"mark":{"type":"line","strokeWidth":1.1,"clip":true},"encoding":{"x":{"field":"t","type":"temporal","title":null,"scale":{"domain":[{"year":2019,"month":8,"date":2,"hours":8,"minutes":34,"seconds":33},{"year":2019,"month":8,"date":4,"hours":6,"minutes":34,"seconds":27}]},"axis":{"format":"%b %d %H:%M","values":[{"year":2019,"month":8,"date":2,"hours":12},{"year":2019,"month":8,"date":3,"hours":0},{"year":2019,"month":8,"date":3,"hours":12},{"year":2019,"month":8,"date":4,"hours":0}]}},"y":{"field":"v","type":"quantitative","title":null,"scale":{"domain":[-30,972.2],"nice":false,"zero":false},"axis":{"values":[0,200,400,600]}},"color":{"field":"s","type":"nominal","scale":{"domain":["A","H","P"],"range":["#E41A1C","#377EB8","#4DAF4A"]},"legend":{"title":"pCO2 record","orient":"none","legendX":553,"legendY":1974,"labelExpr":"datum.value == 'A' ? 'analog CTD' : datum.value == 'H' ? 'HydroC, drift corrected' : 'pre cleaning'"}},"detail":{"field":"g"}}},{"data":{"values":[{}]},"mark":{"type":"rect","fill":"#D9D9D9","stroke":"#333333","strokeWidth":1.2},"encoding":{"y":{"datum":630},"y2":{"datum":972.2}}},{"data":{"values":[{"n":"33"}]},"mark":{"type":"text","fontSize":14,"color":"#1A1A1A"},"encoding":{"y":{"datum":801.1},"text":{"field":"n"}}}]},
{"width":528,"height":82,"layer":[{"data":{"name":"p34"},"mark":{"type":"line","strokeWidth":1.1,"clip":true},"encoding":{"x":{"field":"t","type":"temporal","title":null,"scale":{"domain":[{"year":2019,"month":8,"date":6,"hours":13,"minutes":4,"seconds":54},{"year":2019,"month":8,"date":8,"hours":1,"minutes":47,"seconds":6}]},"axis":{"format":"%b %d %H:%M","values":[{"year":2019,"month":8,"date":7,"hours":0},{"year":2019,"month":8,"date":7,"hours":12},{"year":2019,"month":8,"date":8,"hours":0}]}},"y":{"field":"v","type":"quantitative","title":null,"scale":{"domain":[-30,972.2],"nice":false,"zero":false},"axis":{"values":[0,200,400,600]}},"color":{"field":"s","type":"nominal","scale":{"domain":["A","H","P"],"range":["#E41A1C","#377EB8","#4DAF4A"]},"legend":{"title":"pCO2 record","orient":"none","legendX":553,"legendY":1974,"labelExpr":"datum.value == 'A' ? 'analog CTD' : datum.value == 'H' ? 'HydroC, drift corrected' : 'pre cleaning'"}},"detail":{"field":"g"}}},{"data":{"values":[{}]},"mark":{"type":"rect","fill":"#D9D9D9","stroke":"#333333","strokeWidth":1.2},"encoding":{"y":{"datum":630},"y2":{"datum":972.2}}},{"data":{"values":[{"n":"34"}]},"mark":{"type":"text","fontSize":14,"color":"#1A1A1A"},"encoding":{"y":{"datum":801.1},"text":{"field":"n"}}}]},
{"width":528,"height":82,"layer":[{"data":{"name":"p35"},"mark":{"type":"line","strokeWidth":1.1,"clip":true},"encoding":{"x":{"field":"t","type":"temporal","title":null,"scale":{"domain":[{"year":2019,"month":8,"date":15,"hours":8,"minutes":50,"seconds":21},{"year":2019,"month":8,"date":16,"hours":20,"minutes":16,"seconds":39}]},"axis":{"format":"%b %d %H:%M","values":[{"year":2019,"month":8,"date":15,"hours":12},{"year":2019,"month":8,"date":16,"hours":0},{"year":2019,"month":8,"date":16,"hours":12}]}},"y":{"field":"v","type":"quantitative","title":null,"scale":{"domain":[-30,972.2],"nice":false,"zero":false},"axis":{"values":[0,200,400,600]}},"color":{"field":"s","type":"nominal","scale":{"domain":["A","H","P"],"range":["#E41A1C","#377EB8","#4DAF4A"]},"legend":{"title":"pCO2 record","orient":"none","legendX":553,"legendY":1974,"labelExpr":"datum.value == 'A' ? 'analog CTD' : datum.value == 'H' ? 'HydroC, drift corrected' : 'pre cleaning'"}},"detail":{"field":"g"}}},{"data":{"values":[{}]},"mark":{"type":"rect","fill":"#D9D9D9","stroke":"#333333","strokeWidth":1.2},"encoding":{"y":{"datum":630},"y2":{"datum":972.2}}},{"data":{"values":[{"n":"35"}]},"mark":{"type":"text","fontSize":14,"color":"#1A1A1A"},"encoding":{"y":{"datum":801.1},"text":{"field":"n"}}}]},
{"width":528,"height":82,"layer":[{"data":{"name":"p37"},"mark":{"type":"line","strokeWidth":1.1,"clip":true},"encoding":{"x":{"field":"t","type":"temporal","title":null,"scale":{"domain":[{"year":2019,"month":8,"date":20,"hours":9,"minutes":24,"seconds":24},{"year":2019,"month":8,"date":21,"hours":0,"minutes":17,"seconds":36}]},"axis":{"format":"%H:%M","values":[{"year":2019,"month":8,"date":20,"hours":12},{"year":2019,"month":8,"date":20,"hours":15},{"year":2019,"month":8,"date":20,"hours":18},{"year":2019,"month":8,"date":20,"hours":21},{"year":2019,"month":8,"date":21,"hours":0}]}},"y":{"field":"v","type":"quantitative","title":null,"scale":{"domain":[-30,972.2],"nice":false,"zero":false},"axis":{"values":[0,200,400,600]}},"color":{"field":"s","type":"nominal","scale":{"domain":["A","H","P"],"range":["#E41A1C","#377EB8","#4DAF4A"]},"legend":{"title":"pCO2 record","orient":"none","legendX":553,"legendY":1974,"labelExpr":"datum.value == 'A' ? 'analog CTD' : datum.value == 'H' ? 'HydroC, drift corrected' : 'pre cleaning'"}},"detail":{"field":"g"}}},{"data":{"values":[{}]},"mark":{"type":"rect","fill":"#D9D9D9","stroke":"#333333","strokeWidth":1.2},"encoding":{"y":{"datum":630},"y2":{"datum":972.2}}},{"data":{"values":[{"n":"37"}]},"mark":{"type":"text","fontSize":14,"color":"#1A1A1A"},"encoding":{"y":{"datum":801.1},"text":{"field":"n"}}}]}
]
}
